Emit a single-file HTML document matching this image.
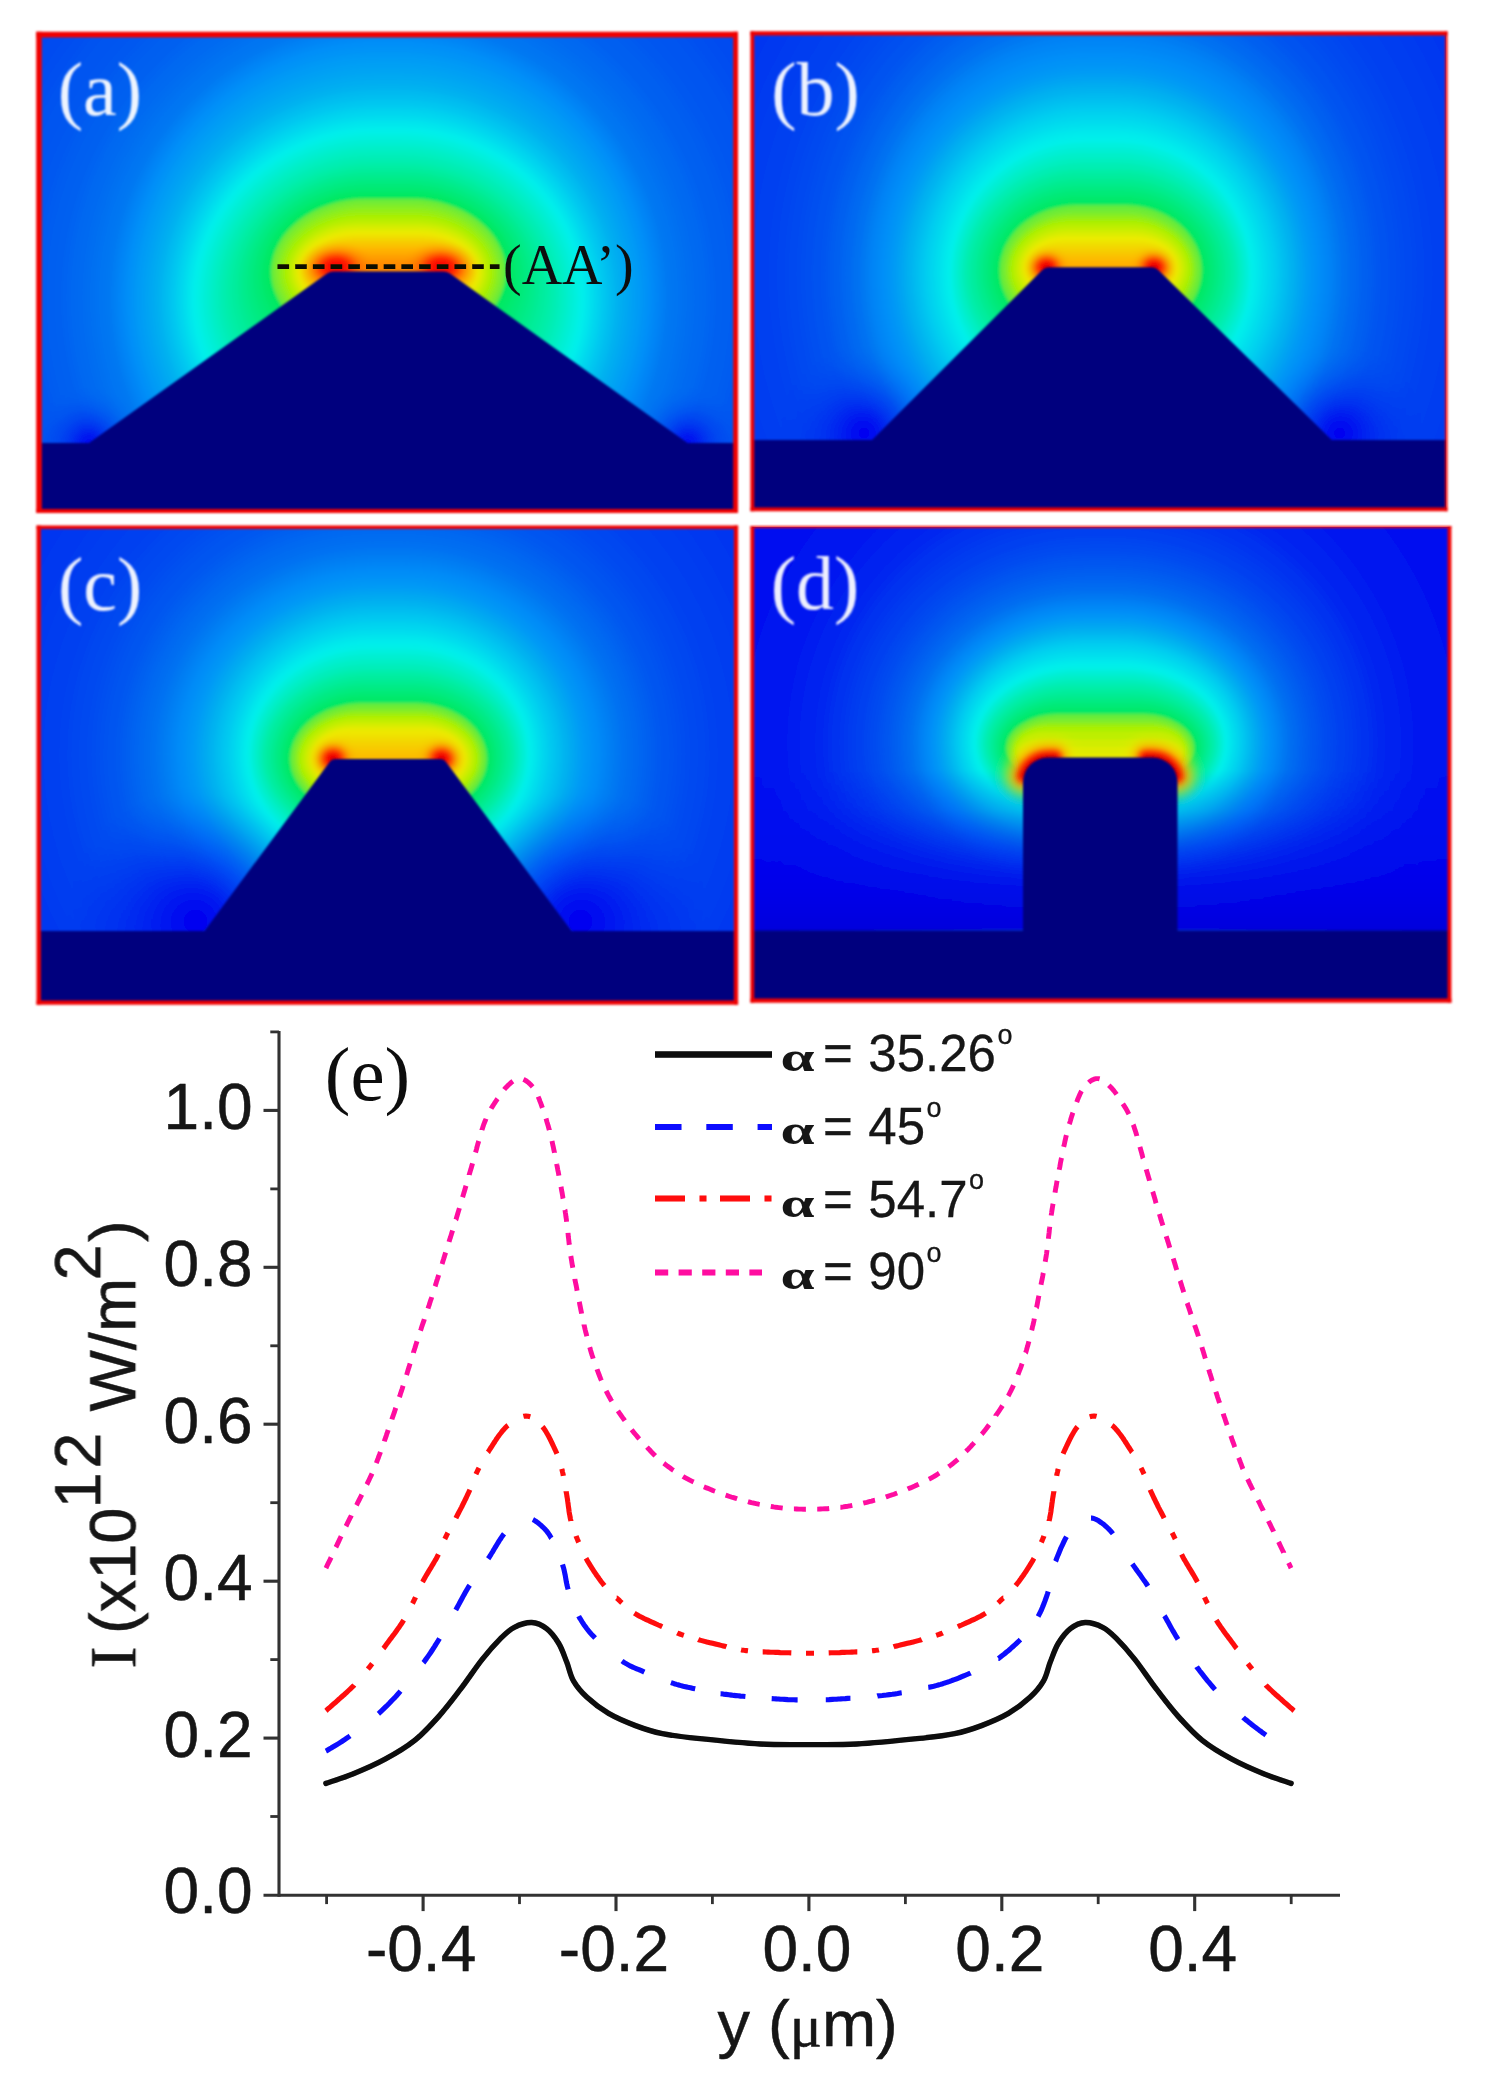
<!DOCTYPE html>
<html><head><meta charset="utf-8"><title>figure</title>
<style>html,body{margin:0;padding:0;background:#fff}svg{display:block}text{font-family:"Liberation Sans",sans-serif}.se{font-family:"Liberation Serif",serif}</style></head><body>
<svg width="1486" height="2092" viewBox="0 0 1486 2092">
<defs>
<filter id="soft" x="-5%" y="-5%" width="110%" height="110%"><feGaussianBlur stdDeviation="1.6"/></filter>
<filter id="soft1" x="-5%" y="-5%" width="110%" height="110%"><feGaussianBlur stdDeviation="1.0"/></filter>
<filter id="bl2" filterUnits="userSpaceOnUse" x="0" y="0" width="1486" height="1040"><feGaussianBlur stdDeviation="1.6"/></filter>
<filter id="bl3" filterUnits="userSpaceOnUse" x="0" y="0" width="1486" height="1040"><feGaussianBlur stdDeviation="2.6"/></filter>
<filter id="bl5" filterUnits="userSpaceOnUse" x="0" y="0" width="1486" height="1040"><feGaussianBlur stdDeviation="4.2"/></filter>
<filter id="bl7" filterUnits="userSpaceOnUse" x="0" y="0" width="1486" height="1040"><feGaussianBlur stdDeviation="6"/></filter>
<filter id="soft2" x="-5%" y="-5%" width="110%" height="110%"><feGaussianBlur stdDeviation="0.6"/></filter>
<radialGradient id="hotA"><stop offset="0.000" stop-color="#f40400" stop-opacity="1.000"/><stop offset="0.031" stop-color="#f50600" stop-opacity="1.000"/><stop offset="0.062" stop-color="#f60800" stop-opacity="1.000"/><stop offset="0.094" stop-color="#f70a00" stop-opacity="1.000"/><stop offset="0.125" stop-color="#f90c00" stop-opacity="1.000"/><stop offset="0.156" stop-color="#fa0e00" stop-opacity="1.000"/><stop offset="0.188" stop-color="#fb1000" stop-opacity="1.000"/><stop offset="0.219" stop-color="#fc1300" stop-opacity="0.998"/><stop offset="0.250" stop-color="#fd1500" stop-opacity="0.984"/><stop offset="0.281" stop-color="#fe1700" stop-opacity="0.960"/><stop offset="0.312" stop-color="#ff1b00" stop-opacity="0.924"/><stop offset="0.344" stop-color="#ff2100" stop-opacity="0.879"/><stop offset="0.375" stop-color="#ff2700" stop-opacity="0.826"/><stop offset="0.406" stop-color="#ff2d00" stop-opacity="0.767"/><stop offset="0.438" stop-color="#ff3400" stop-opacity="0.703"/><stop offset="0.469" stop-color="#ff3a00" stop-opacity="0.637"/><stop offset="0.500" stop-color="#ff4000" stop-opacity="0.570"/><stop offset="0.531" stop-color="#ff4600" stop-opacity="0.504"/><stop offset="0.562" stop-color="#ff4c00" stop-opacity="0.440"/><stop offset="0.594" stop-color="#ff5300" stop-opacity="0.379"/><stop offset="0.625" stop-color="#ff5700" stop-opacity="0.323"/><stop offset="0.656" stop-color="#ff5b00" stop-opacity="0.272"/><stop offset="0.688" stop-color="#ff5f00" stop-opacity="0.226"/><stop offset="0.719" stop-color="#ff6300" stop-opacity="0.186"/><stop offset="0.750" stop-color="#ff6700" stop-opacity="0.151"/><stop offset="0.781" stop-color="#ff6b00" stop-opacity="0.121"/><stop offset="0.812" stop-color="#ff6f00" stop-opacity="0.090"/><stop offset="0.844" stop-color="#ff7300" stop-opacity="0.059"/><stop offset="0.875" stop-color="#ff7700" stop-opacity="0.036"/><stop offset="0.906" stop-color="#ff7b00" stop-opacity="0.021"/><stop offset="0.938" stop-color="#ff7f00" stop-opacity="0.010"/><stop offset="0.969" stop-color="#ff8300" stop-opacity="0.004"/><stop offset="1.000" stop-color="#ff8700" stop-opacity="0.000"/></radialGradient>
<radialGradient id="hotB"><stop offset="0.000" stop-color="#d00000" stop-opacity="1.000"/><stop offset="0.031" stop-color="#d90100" stop-opacity="1.000"/><stop offset="0.062" stop-color="#e30200" stop-opacity="1.000"/><stop offset="0.094" stop-color="#ec0300" stop-opacity="1.000"/><stop offset="0.125" stop-color="#f40500" stop-opacity="0.994"/><stop offset="0.156" stop-color="#f60b00" stop-opacity="0.968"/><stop offset="0.188" stop-color="#f81200" stop-opacity="0.923"/><stop offset="0.219" stop-color="#fa1800" stop-opacity="0.864"/><stop offset="0.250" stop-color="#fc1e00" stop-opacity="0.791"/><stop offset="0.281" stop-color="#fe2400" stop-opacity="0.710"/><stop offset="0.312" stop-color="#ff2c00" stop-opacity="0.625"/><stop offset="0.344" stop-color="#ff3500" stop-opacity="0.539"/><stop offset="0.375" stop-color="#ff3e00" stop-opacity="0.455"/><stop offset="0.406" stop-color="#ff4800" stop-opacity="0.377"/><stop offset="0.438" stop-color="#ff5100" stop-opacity="0.306"/><stop offset="0.469" stop-color="#ff5b00" stop-opacity="0.243"/><stop offset="0.500" stop-color="#ff6400" stop-opacity="0.189"/><stop offset="0.531" stop-color="#ff6c00" stop-opacity="0.144"/><stop offset="0.562" stop-color="#ff7300" stop-opacity="0.108"/><stop offset="0.594" stop-color="#ff7a00" stop-opacity="0.079"/><stop offset="0.625" stop-color="#ff8200" stop-opacity="0.057"/><stop offset="0.656" stop-color="#ff8a00" stop-opacity="0.040"/><stop offset="0.688" stop-color="#ff9100" stop-opacity="0.028"/><stop offset="0.719" stop-color="#ff9800" stop-opacity="0.019"/><stop offset="0.750" stop-color="#ffa000" stop-opacity="0.012"/><stop offset="0.781" stop-color="#ffa500" stop-opacity="0.008"/><stop offset="0.812" stop-color="#ffaa00" stop-opacity="0.005"/><stop offset="0.844" stop-color="#ffaf00" stop-opacity="0.002"/><stop offset="0.875" stop-color="#ffb400" stop-opacity="0.001"/><stop offset="0.906" stop-color="#ffb900" stop-opacity="0.001"/><stop offset="0.938" stop-color="#ffbe00" stop-opacity="0.000"/><stop offset="0.969" stop-color="#ffc300" stop-opacity="0.000"/><stop offset="1.000" stop-color="#ffc800" stop-opacity="0.000"/></radialGradient>
<radialGradient id="hotD"><stop offset="0.000" stop-color="#ca0000" stop-opacity="1.000"/><stop offset="0.031" stop-color="#d10000" stop-opacity="1.000"/><stop offset="0.062" stop-color="#d70100" stop-opacity="1.000"/><stop offset="0.094" stop-color="#de0100" stop-opacity="1.000"/><stop offset="0.125" stop-color="#e50200" stop-opacity="1.000"/><stop offset="0.156" stop-color="#eb0200" stop-opacity="1.000"/><stop offset="0.188" stop-color="#f00900" stop-opacity="0.996"/><stop offset="0.219" stop-color="#f41000" stop-opacity="0.981"/><stop offset="0.250" stop-color="#f81800" stop-opacity="0.955"/><stop offset="0.281" stop-color="#fc1f00" stop-opacity="0.920"/><stop offset="0.312" stop-color="#ff2b00" stop-opacity="0.876"/><stop offset="0.344" stop-color="#ff3b00" stop-opacity="0.826"/><stop offset="0.375" stop-color="#ff4c00" stop-opacity="0.769"/><stop offset="0.406" stop-color="#ff5c00" stop-opacity="0.709"/><stop offset="0.438" stop-color="#ff6c00" stop-opacity="0.646"/><stop offset="0.469" stop-color="#ff7d00" stop-opacity="0.583"/><stop offset="0.500" stop-color="#ff8e00" stop-opacity="0.519"/><stop offset="0.531" stop-color="#ff9e00" stop-opacity="0.458"/><stop offset="0.562" stop-color="#ffaf00" stop-opacity="0.399"/><stop offset="0.594" stop-color="#ffc000" stop-opacity="0.344"/><stop offset="0.625" stop-color="#fcc900" stop-opacity="0.294"/><stop offset="0.656" stop-color="#f8d000" stop-opacity="0.248"/><stop offset="0.688" stop-color="#f4d700" stop-opacity="0.207"/><stop offset="0.719" stop-color="#f0df00" stop-opacity="0.170"/><stop offset="0.750" stop-color="#ece600" stop-opacity="0.139"/><stop offset="0.781" stop-color="#e8e700" stop-opacity="0.112"/><stop offset="0.812" stop-color="#e3e800" stop-opacity="0.084"/><stop offset="0.844" stop-color="#deea00" stop-opacity="0.055"/><stop offset="0.875" stop-color="#daeb00" stop-opacity="0.034"/><stop offset="0.906" stop-color="#d6ec00" stop-opacity="0.020"/><stop offset="0.938" stop-color="#d1ee00" stop-opacity="0.010"/><stop offset="0.969" stop-color="#ccef00" stop-opacity="0.004"/><stop offset="1.000" stop-color="#c8f000" stop-opacity="0.000"/></radialGradient>
<radialGradient id="dk1"><stop offset="0.000" stop-color="#0000f0" stop-opacity="0.950"/><stop offset="0.031" stop-color="#0000f0" stop-opacity="0.950"/><stop offset="0.062" stop-color="#0001f0" stop-opacity="0.920"/><stop offset="0.094" stop-color="#0001f0" stop-opacity="0.848"/><stop offset="0.125" stop-color="#0002f0" stop-opacity="0.780"/><stop offset="0.156" stop-color="#0002f0" stop-opacity="0.715"/><stop offset="0.188" stop-color="#0003f0" stop-opacity="0.653"/><stop offset="0.219" stop-color="#0003f0" stop-opacity="0.594"/><stop offset="0.250" stop-color="#0004f0" stop-opacity="0.539"/><stop offset="0.281" stop-color="#0004f0" stop-opacity="0.486"/><stop offset="0.312" stop-color="#0005f0" stop-opacity="0.437"/><stop offset="0.344" stop-color="#0005f0" stop-opacity="0.391"/><stop offset="0.375" stop-color="#0006f0" stop-opacity="0.348"/><stop offset="0.406" stop-color="#0006f0" stop-opacity="0.307"/><stop offset="0.438" stop-color="#0008f0" stop-opacity="0.270"/><stop offset="0.469" stop-color="#000af0" stop-opacity="0.235"/><stop offset="0.500" stop-color="#000cf0" stop-opacity="0.204"/><stop offset="0.531" stop-color="#000df0" stop-opacity="0.174"/><stop offset="0.562" stop-color="#000ff0" stop-opacity="0.148"/><stop offset="0.594" stop-color="#0011f0" stop-opacity="0.124"/><stop offset="0.625" stop-color="#0013f0" stop-opacity="0.102"/><stop offset="0.656" stop-color="#0015f0" stop-opacity="0.083"/><stop offset="0.688" stop-color="#0016f0" stop-opacity="0.066"/><stop offset="0.719" stop-color="#0018f0" stop-opacity="0.051"/><stop offset="0.750" stop-color="#001af0" stop-opacity="0.039"/><stop offset="0.781" stop-color="#001cf0" stop-opacity="0.028"/><stop offset="0.812" stop-color="#001df0" stop-opacity="0.019"/><stop offset="0.844" stop-color="#001ff0" stop-opacity="0.012"/><stop offset="0.875" stop-color="#0021f0" stop-opacity="0.007"/><stop offset="0.906" stop-color="#0023f0" stop-opacity="0.004"/><stop offset="0.938" stop-color="#0024f0" stop-opacity="0.001"/><stop offset="0.969" stop-color="#0026f0" stop-opacity="0.000"/><stop offset="1.000" stop-color="#0028f0" stop-opacity="0.000"/></radialGradient>
<radialGradient id="dk2"><stop offset="0.000" stop-color="#0000f0" stop-opacity="1.000"/><stop offset="0.031" stop-color="#0000f0" stop-opacity="1.000"/><stop offset="0.062" stop-color="#0001f0" stop-opacity="0.971"/><stop offset="0.094" stop-color="#0001f0" stop-opacity="0.901"/><stop offset="0.125" stop-color="#0002f0" stop-opacity="0.834"/><stop offset="0.156" stop-color="#0002f0" stop-opacity="0.770"/><stop offset="0.188" stop-color="#0003f0" stop-opacity="0.709"/><stop offset="0.219" stop-color="#0003f0" stop-opacity="0.650"/><stop offset="0.250" stop-color="#0004f0" stop-opacity="0.594"/><stop offset="0.281" stop-color="#0004f0" stop-opacity="0.541"/><stop offset="0.312" stop-color="#0005f0" stop-opacity="0.491"/><stop offset="0.344" stop-color="#0005f0" stop-opacity="0.443"/><stop offset="0.375" stop-color="#0006f0" stop-opacity="0.398"/><stop offset="0.406" stop-color="#0006f0" stop-opacity="0.356"/><stop offset="0.438" stop-color="#0008f0" stop-opacity="0.316"/><stop offset="0.469" stop-color="#000af0" stop-opacity="0.278"/><stop offset="0.500" stop-color="#000cf0" stop-opacity="0.244"/><stop offset="0.531" stop-color="#000df0" stop-opacity="0.211"/><stop offset="0.562" stop-color="#000ff0" stop-opacity="0.182"/><stop offset="0.594" stop-color="#0011f0" stop-opacity="0.154"/><stop offset="0.625" stop-color="#0013f0" stop-opacity="0.129"/><stop offset="0.656" stop-color="#0015f0" stop-opacity="0.107"/><stop offset="0.688" stop-color="#0016f0" stop-opacity="0.087"/><stop offset="0.719" stop-color="#0018f0" stop-opacity="0.069"/><stop offset="0.750" stop-color="#001af0" stop-opacity="0.053"/><stop offset="0.781" stop-color="#001cf0" stop-opacity="0.040"/><stop offset="0.812" stop-color="#001df0" stop-opacity="0.028"/><stop offset="0.844" stop-color="#001ff0" stop-opacity="0.019"/><stop offset="0.875" stop-color="#0021f0" stop-opacity="0.012"/><stop offset="0.906" stop-color="#0023f0" stop-opacity="0.006"/><stop offset="0.938" stop-color="#0024f0" stop-opacity="0.003"/><stop offset="0.969" stop-color="#0026f0" stop-opacity="0.001"/><stop offset="1.000" stop-color="#0028f0" stop-opacity="0.000"/></radialGradient>
<radialGradient id="dk3"><stop offset="0.000" stop-color="#0000f0" stop-opacity="1.000"/><stop offset="0.031" stop-color="#0000f0" stop-opacity="1.000"/><stop offset="0.062" stop-color="#0001f0" stop-opacity="0.981"/><stop offset="0.094" stop-color="#0001f0" stop-opacity="0.934"/><stop offset="0.125" stop-color="#0002f0" stop-opacity="0.888"/><stop offset="0.156" stop-color="#0002f0" stop-opacity="0.842"/><stop offset="0.188" stop-color="#0003f0" stop-opacity="0.797"/><stop offset="0.219" stop-color="#0003f0" stop-opacity="0.753"/><stop offset="0.250" stop-color="#0004f0" stop-opacity="0.710"/><stop offset="0.281" stop-color="#0004f0" stop-opacity="0.667"/><stop offset="0.312" stop-color="#0005f0" stop-opacity="0.626"/><stop offset="0.344" stop-color="#0005f0" stop-opacity="0.585"/><stop offset="0.375" stop-color="#0006f0" stop-opacity="0.545"/><stop offset="0.406" stop-color="#0006f0" stop-opacity="0.506"/><stop offset="0.438" stop-color="#0008f0" stop-opacity="0.468"/><stop offset="0.469" stop-color="#000af0" stop-opacity="0.431"/><stop offset="0.500" stop-color="#000cf0" stop-opacity="0.394"/><stop offset="0.531" stop-color="#000df0" stop-opacity="0.359"/><stop offset="0.562" stop-color="#000ff0" stop-opacity="0.325"/><stop offset="0.594" stop-color="#0011f0" stop-opacity="0.292"/><stop offset="0.625" stop-color="#0013f0" stop-opacity="0.260"/><stop offset="0.656" stop-color="#0015f0" stop-opacity="0.229"/><stop offset="0.688" stop-color="#0016f0" stop-opacity="0.199"/><stop offset="0.719" stop-color="#0018f0" stop-opacity="0.171"/><stop offset="0.750" stop-color="#001af0" stop-opacity="0.144"/><stop offset="0.781" stop-color="#001cf0" stop-opacity="0.119"/><stop offset="0.812" stop-color="#001df0" stop-opacity="0.095"/><stop offset="0.844" stop-color="#001ff0" stop-opacity="0.073"/><stop offset="0.875" stop-color="#0021f0" stop-opacity="0.053"/><stop offset="0.906" stop-color="#0023f0" stop-opacity="0.035"/><stop offset="0.938" stop-color="#0024f0" stop-opacity="0.019"/><stop offset="0.969" stop-color="#0026f0" stop-opacity="0.007"/><stop offset="1.000" stop-color="#0028f0" stop-opacity="0.000"/></radialGradient>
<linearGradient id="dkD" x1="0" y1="0" x2="0" y2="1"><stop offset="0" stop-color="#0000ee" stop-opacity="0"/><stop offset="0.25" stop-color="#0000ee" stop-opacity="0.2"/><stop offset="0.5" stop-color="#0000ec" stop-opacity="0.55"/><stop offset="0.75" stop-color="#0000e8" stop-opacity="0.88"/><stop offset="1" stop-color="#0000dc" stop-opacity="1"/></linearGradient>
</defs>
<rect width="1486" height="2092" fill="#fff"/>
<clipPath id="cpA"><rect x="39.0" y="34.6" width="696.6" height="476.4"/></clipPath>
<g clip-path="url(#cpA)"><g filter="url(#soft)">
<rect x="19.0" y="14.600000000000001" width="736.6" height="516.4" fill="#003cf0"/>
<rect x="-190.0" y="-308.5" width="1157.0" height="1212.0" rx="574.8" ry="606.0" fill="#003cf0"/>
<rect x="-186.0" y="-304.1" width="1149.0" height="1203.2" rx="570.8" ry="601.6" fill="#003cf0"/>
<rect x="-182.0" y="-299.7" width="1141.0" height="1194.3" rx="566.8" ry="597.2" fill="#003cf0"/>
<rect x="-178.0" y="-295.2" width="1133.0" height="1185.5" rx="562.7" ry="592.7" fill="#003df0"/>
<rect x="-174.0" y="-290.8" width="1125.0" height="1176.7" rx="558.7" ry="588.3" fill="#003df0"/>
<rect x="-170.0" y="-286.4" width="1117.0" height="1167.8" rx="554.7" ry="583.9" fill="#003df0"/>
<rect x="-166.0" y="-282.0" width="1109.0" height="1159.0" rx="550.6" ry="579.5" fill="#003ef0"/>
<rect x="-162.0" y="-277.6" width="1101.0" height="1150.2" rx="546.6" ry="575.1" fill="#003ef0"/>
<rect x="-158.0" y="-273.2" width="1093.0" height="1141.3" rx="542.6" ry="570.7" fill="#003ef0"/>
<rect x="-154.0" y="-268.7" width="1085.0" height="1132.5" rx="538.6" ry="566.2" fill="#003ff0"/>
<rect x="-150.0" y="-264.3" width="1077.0" height="1123.7" rx="534.5" ry="561.8" fill="#003ff0"/>
<rect x="-146.0" y="-259.9" width="1069.0" height="1114.8" rx="530.5" ry="557.4" fill="#003ff0"/>
<rect x="-142.0" y="-255.5" width="1061.0" height="1106.0" rx="526.5" ry="553.0" fill="#0040f0"/>
<rect x="-138.0" y="-251.1" width="1053.0" height="1097.2" rx="522.4" ry="548.6" fill="#0040f0"/>
<rect x="-134.0" y="-246.7" width="1045.0" height="1088.3" rx="518.4" ry="544.2" fill="#0041f0"/>
<rect x="-130.0" y="-242.2" width="1037.0" height="1079.5" rx="514.4" ry="539.7" fill="#0041f0"/>
<rect x="-126.0" y="-237.8" width="1029.0" height="1070.7" rx="510.3" ry="535.3" fill="#0041f0"/>
<rect x="-122.0" y="-233.4" width="1021.0" height="1061.8" rx="506.3" ry="530.9" fill="#0042f0"/>
<rect x="-118.0" y="-229.0" width="1013.0" height="1053.0" rx="502.3" ry="526.5" fill="#0042f0"/>
<rect x="-114.0" y="-224.6" width="1005.0" height="1044.1" rx="498.2" ry="522.1" fill="#0043f0"/>
<rect x="-110.0" y="-220.2" width="997.0" height="1035.3" rx="494.2" ry="517.7" fill="#0043f0"/>
<rect x="-106.0" y="-215.7" width="989.0" height="1026.5" rx="490.2" ry="513.2" fill="#0043f0"/>
<rect x="-102.0" y="-211.3" width="981.0" height="1017.6" rx="486.1" ry="508.8" fill="#0044f0"/>
<rect x="-98.0" y="-206.9" width="973.0" height="1008.8" rx="482.1" ry="504.4" fill="#0044f0"/>
<rect x="-94.0" y="-202.5" width="965.0" height="1000.0" rx="478.0" ry="500.0" fill="#0045f0"/>
<rect x="-90.0" y="-198.1" width="957.0" height="991.1" rx="474.0" ry="495.6" fill="#0045f0"/>
<rect x="-86.0" y="-193.7" width="949.0" height="982.3" rx="470.0" ry="491.2" fill="#0045f0"/>
<rect x="-82.0" y="-189.2" width="941.0" height="973.5" rx="465.9" ry="486.7" fill="#0046f0"/>
<rect x="-78.0" y="-184.8" width="933.0" height="964.6" rx="461.9" ry="482.3" fill="#0046f0"/>
<rect x="-74.0" y="-180.4" width="925.0" height="955.8" rx="457.8" ry="477.9" fill="#0047f0"/>
<rect x="-70.0" y="-176.0" width="917.0" height="947.0" rx="453.8" ry="473.5" fill="#0047f0"/>
<rect x="-66.0" y="-171.6" width="909.0" height="938.1" rx="449.7" ry="469.1" fill="#0047f0"/>
<rect x="-62.0" y="-167.2" width="901.0" height="929.3" rx="445.7" ry="464.7" fill="#0048f0"/>
<rect x="-58.0" y="-162.7" width="893.0" height="920.5" rx="441.7" ry="460.2" fill="#0048f0"/>
<rect x="-54.0" y="-158.3" width="885.0" height="911.6" rx="437.6" ry="455.8" fill="#0049f0"/>
<rect x="-50.0" y="-153.9" width="877.0" height="902.8" rx="433.6" ry="451.4" fill="#0049f0"/>
<rect x="-46.0" y="-149.5" width="869.0" height="894.0" rx="429.5" ry="447.0" fill="#004af0"/>
<rect x="-42.0" y="-145.1" width="861.0" height="885.1" rx="425.5" ry="442.6" fill="#004af0"/>
<rect x="-38.0" y="-140.6" width="853.0" height="876.3" rx="421.4" ry="438.1" fill="#004af0"/>
<rect x="-34.0" y="-136.2" width="845.0" height="867.5" rx="417.4" ry="433.7" fill="#004bf0"/>
<rect x="-30.0" y="-131.8" width="837.0" height="858.6" rx="413.3" ry="429.3" fill="#004bf0"/>
<rect x="-26.0" y="-127.4" width="829.0" height="849.8" rx="409.3" ry="424.9" fill="#004cf0"/>
<rect x="-22.0" y="-122.9" width="821.0" height="840.8" rx="405.2" ry="420.4" fill="#004df0"/>
<rect x="-18.0" y="-118.4" width="813.0" height="831.9" rx="401.2" ry="415.9" fill="#004ef0"/>
<rect x="-14.0" y="-114.0" width="805.0" height="822.9" rx="397.1" ry="411.5" fill="#004ff0"/>
<rect x="-10.0" y="-109.5" width="797.0" height="814.0" rx="393.0" ry="407.0" fill="#0050f0"/>
<rect x="-6.0" y="-105.0" width="789.0" height="805.1" rx="389.0" ry="402.5" fill="#0051f0"/>
<rect x="-2.0" y="-100.6" width="781.0" height="796.1" rx="384.9" ry="398.1" fill="#0052f0"/>
<rect x="2.0" y="-96.1" width="773.0" height="787.2" rx="380.9" ry="393.6" fill="#0053f0"/>
<rect x="6.0" y="-91.6" width="765.0" height="778.2" rx="376.8" ry="389.1" fill="#0054f0"/>
<rect x="10.0" y="-87.1" width="757.0" height="769.3" rx="372.7" ry="384.6" fill="#0054f0"/>
<rect x="14.0" y="-82.7" width="749.0" height="760.4" rx="368.7" ry="380.2" fill="#0055f0"/>
<rect x="18.0" y="-78.2" width="741.0" height="751.4" rx="364.6" ry="375.7" fill="#0056f0"/>
<rect x="22.0" y="-73.7" width="733.0" height="742.5" rx="360.5" ry="371.2" fill="#0057f0"/>
<rect x="26.0" y="-69.3" width="725.0" height="733.5" rx="356.5" ry="366.8" fill="#0058f0"/>
<rect x="30.0" y="-64.8" width="717.0" height="724.6" rx="352.4" ry="362.3" fill="#0059f0"/>
<rect x="34.0" y="-60.3" width="709.0" height="715.6" rx="348.3" ry="357.8" fill="#005af0"/>
<rect x="38.0" y="-55.9" width="701.0" height="706.7" rx="344.2" ry="353.4" fill="#005cf0"/>
<rect x="42.0" y="-51.4" width="693.0" height="697.8" rx="340.2" ry="348.9" fill="#005df0"/>
<rect x="46.0" y="-46.9" width="685.0" height="688.8" rx="336.1" ry="344.4" fill="#005ef0"/>
<rect x="50.0" y="-42.4" width="677.0" height="679.9" rx="332.0" ry="339.9" fill="#005ff0"/>
<rect x="54.0" y="-38.0" width="669.0" height="670.9" rx="327.9" ry="335.5" fill="#0060f0"/>
<rect x="58.0" y="-33.5" width="661.0" height="662.0" rx="323.8" ry="331.0" fill="#0061f0"/>
<rect x="62.0" y="-29.2" width="653.0" height="653.3" rx="319.7" ry="326.7" fill="#0063f1"/>
<rect x="66.0" y="-24.8" width="645.0" height="644.7" rx="315.7" ry="322.3" fill="#0065f1"/>
<rect x="70.0" y="-20.5" width="637.0" height="636.0" rx="311.6" ry="318.0" fill="#0067f1"/>
<rect x="74.0" y="-16.2" width="629.0" height="627.4" rx="307.5" ry="313.7" fill="#0069f1"/>
<rect x="78.0" y="-11.9" width="621.0" height="618.7" rx="303.4" ry="309.4" fill="#006bf1"/>
<rect x="82.0" y="-7.5" width="613.0" height="610.1" rx="299.3" ry="305.0" fill="#006cf1"/>
<rect x="86.0" y="-3.2" width="605.0" height="601.4" rx="295.2" ry="300.7" fill="#006ef1"/>
<rect x="90.0" y="1.1" width="597.0" height="592.8" rx="291.1" ry="296.4" fill="#0070f1"/>
<rect x="94.0" y="5.4" width="589.0" height="584.1" rx="286.9" ry="292.1" fill="#0072f2"/>
<rect x="98.0" y="9.8" width="581.0" height="575.5" rx="282.8" ry="287.7" fill="#0074f2"/>
<rect x="102.0" y="14.1" width="573.0" height="566.8" rx="278.7" ry="283.4" fill="#0076f2"/>
<rect x="106.0" y="18.4" width="565.0" height="558.2" rx="274.6" ry="279.1" fill="#0078f2"/>
<rect x="110.0" y="22.8" width="557.0" height="549.3" rx="270.5" ry="274.7" fill="#007cf3"/>
<rect x="114.0" y="27.3" width="549.0" height="540.4" rx="266.3" ry="270.2" fill="#0081f4"/>
<rect x="118.0" y="31.7" width="541.0" height="531.6" rx="262.2" ry="265.8" fill="#0085f6"/>
<rect x="122.0" y="36.2" width="533.0" height="522.7" rx="258.1" ry="261.3" fill="#008af7"/>
<rect x="126.0" y="40.9" width="525.0" height="513.4" rx="253.9" ry="256.7" fill="#008ff8"/>
<rect x="130.0" y="46.4" width="517.0" height="502.8" rx="249.8" ry="251.4" fill="#0093f7"/>
<rect x="134.0" y="52.0" width="509.0" height="492.2" rx="245.6" ry="246.1" fill="#0098f6"/>
<rect x="138.0" y="57.5" width="501.0" height="481.6" rx="241.5" ry="240.8" fill="#009cf5"/>
<rect x="142.0" y="63.1" width="493.0" height="471.0" rx="237.3" ry="235.5" fill="#00a0f4"/>
<rect x="146.0" y="68.6" width="485.0" height="460.5" rx="233.2" ry="230.2" fill="#00a4f3"/>
<rect x="150.0" y="74.2" width="477.0" height="449.9" rx="229.0" ry="224.9" fill="#00a9f2"/>
<rect x="154.0" y="79.7" width="469.0" height="439.3" rx="224.8" ry="219.6" fill="#00adf1"/>
<rect x="158.0" y="85.0" width="461.0" height="429.0" rx="220.6" ry="214.5" fill="#00b2f0"/>
<rect x="162.0" y="90.0" width="453.0" height="419.1" rx="216.4" ry="209.5" fill="#00b9f0"/>
<rect x="166.0" y="94.9" width="445.0" height="409.1" rx="212.2" ry="204.6" fill="#00bff0"/>
<rect x="170.0" y="99.9" width="437.0" height="399.2" rx="208.0" ry="199.6" fill="#00c6f0"/>
<rect x="174.0" y="104.9" width="429.0" height="389.2" rx="203.8" ry="194.6" fill="#00ccf0"/>
<rect x="177.0" y="108.6" width="423.0" height="381.8" rx="200.6" ry="190.9" fill="#00d2ef"/>
<rect x="180.0" y="112.3" width="417.0" height="374.3" rx="197.4" ry="187.2" fill="#00d7ef"/>
<rect x="183.0" y="116.1" width="411.0" height="366.9" rx="194.2" ry="183.4" fill="#00ddee"/>
<rect x="186.0" y="119.8" width="405.0" height="359.4" rx="191.1" ry="179.7" fill="#00e3ed"/>
<rect x="189.0" y="123.5" width="399.0" height="351.9" rx="187.9" ry="176.0" fill="#00e8ec"/>
<rect x="192.0" y="127.3" width="393.0" height="344.5" rx="184.7" ry="172.2" fill="#00eeeb"/>
<rect x="195.0" y="130.6" width="387.0" height="337.0" rx="181.5" ry="168.5" fill="#00f0e7"/>
<rect x="198.0" y="133.8" width="381.0" height="329.5" rx="178.2" ry="164.8" fill="#00f0e1"/>
<rect x="201.0" y="137.0" width="375.0" height="322.0" rx="175.0" ry="161.0" fill="#00f0db"/>
<rect x="204.0" y="140.2" width="369.0" height="314.5" rx="171.8" ry="157.2" fill="#00efd5"/>
<rect x="207.0" y="143.4" width="363.0" height="307.0" rx="168.5" ry="153.5" fill="#00efcf"/>
<rect x="210.0" y="146.6" width="357.0" height="299.5" rx="165.3" ry="149.8" fill="#00efc8"/>
<rect x="213.0" y="149.8" width="351.0" height="292.0" rx="162.0" ry="146.0" fill="#00efc2"/>
<rect x="216.0" y="152.9" width="345.0" height="284.5" rx="158.8" ry="142.2" fill="#00efbc"/>
<rect x="219.0" y="156.1" width="339.0" height="277.0" rx="155.5" ry="138.5" fill="#00eeb6"/>
<rect x="222.0" y="159.3" width="333.0" height="269.5" rx="152.2" ry="134.8" fill="#00eeb0"/>
<rect x="225.0" y="162.5" width="327.0" height="262.0" rx="148.9" ry="131.0" fill="#00eeaa"/>
<rect x="228.0" y="164.8" width="321.0" height="254.5" rx="145.6" ry="127.2" fill="#00eea5"/>
<rect x="231.0" y="167.1" width="315.0" height="247.0" rx="142.2" ry="123.5" fill="#00eda0"/>
<rect x="234.0" y="169.4" width="309.0" height="239.5" rx="138.9" ry="119.8" fill="#00ed9b"/>
<rect x="237.0" y="171.6" width="303.0" height="232.0" rx="135.5" ry="116.0" fill="#00ec96"/>
<rect x="240.0" y="173.9" width="297.0" height="224.5" rx="132.1" ry="112.2" fill="#00ec90"/>
<rect x="243.0" y="176.2" width="291.0" height="217.0" rx="128.7" ry="108.5" fill="#00ec8b"/>
<rect x="246.0" y="178.5" width="285.0" height="209.5" rx="125.3" ry="104.8" fill="#00eb86"/>
<rect x="249.0" y="180.8" width="279.0" height="202.0" rx="121.8" ry="101.0" fill="#00eb81"/>
<rect x="252.0" y="183.1" width="273.0" height="194.5" rx="118.4" ry="97.2" fill="#00ea7c"/>
<rect x="255.0" y="185.3" width="267.0" height="187.0" rx="114.9" ry="93.5" fill="#00ea77"/>
<rect x="258.0" y="187.6" width="261.0" height="179.5" rx="111.4" ry="89.8" fill="#00ea72"/>
<rect x="261.0" y="189.9" width="255.0" height="172.0" rx="107.8" ry="86.0" fill="#00e96d"/>
<rect x="263.0" y="191.4" width="251.0" height="167.0" rx="105.4" ry="83.5" fill="#00e969"/>
<rect x="265.0" y="193.0" width="247.0" height="162.0" rx="103.0" ry="81.0" fill="#00e966"/>
<rect x="267.0" y="194.5" width="243.0" height="157.0" rx="100.6" ry="78.5" fill="#00e862"/>
<rect x="269.0" y="196.0" width="239.0" height="152.0" rx="98.2" ry="76.0" fill="#00e85f"/>
<rect x="271.0" y="198.4" width="235.0" height="146.9" rx="95.7" ry="73.4" fill="#65eb3a"/>
<rect x="273.0" y="200.8" width="231.0" height="141.6" rx="93.2" ry="70.8" fill="#70ec35"/>
<rect x="275.0" y="203.2" width="227.0" height="136.5" rx="90.8" ry="68.3" fill="#7bec2f"/>
<rect x="277.0" y="205.7" width="223.0" height="131.6" rx="88.2" ry="65.8" fill="#84ed26"/>
<rect x="279.0" y="208.1" width="219.0" height="126.7" rx="85.7" ry="63.4" fill="#8eee1c"/>
<rect x="281.0" y="210.6" width="215.0" height="121.8" rx="83.1" ry="60.9" fill="#97ee13"/>
<rect x="283.0" y="213.0" width="211.0" height="116.9" rx="80.5" ry="58.5" fill="#a1ef09"/>
<rect x="285.0" y="215.5" width="207.0" height="112.0" rx="77.9" ry="56.0" fill="#aaf000"/>
<rect x="287.0" y="218.0" width="203.0" height="107.1" rx="75.2" ry="53.5" fill="#b4ef00"/>
<rect x="289.0" y="220.4" width="199.0" height="102.2" rx="72.6" ry="51.1" fill="#beee00"/>
<rect x="291.0" y="222.9" width="195.0" height="97.2" rx="69.8" ry="48.6" fill="#c8ee00"/>
<rect x="293.0" y="225.3" width="191.0" height="92.3" rx="67.1" ry="46.2" fill="#d3ed00"/>
<rect x="295.0" y="227.8" width="187.0" height="87.4" rx="64.2" ry="43.7" fill="#ddec00"/>
<rect x="297.0" y="230.3" width="183.0" height="82.5" rx="61.4" ry="41.2" fill="#e7eb00"/>
<rect x="299.0" y="232.8" width="179.0" height="77.5" rx="58.5" ry="38.7" fill="#ede700"/>
<rect x="301.0" y="235.3" width="175.0" height="72.4" rx="55.5" ry="36.2" fill="#f0df00"/>
<rect x="303.0" y="237.8" width="171.0" height="67.4" rx="52.5" ry="33.7" fill="#f3d700"/>
<rect x="305.0" y="240.3" width="167.0" height="62.4" rx="49.4" ry="31.2" fill="#f6ce00"/>
<rect x="307.0" y="242.8" width="163.0" height="57.3" rx="46.2" ry="28.7" fill="#f9c600"/>
<rect x="309.0" y="245.4" width="159.0" height="52.3" rx="42.9" ry="26.1" fill="#fbbe00"/>
<rect x="311.0" y="247.9" width="155.0" height="47.3" rx="39.6" ry="23.6" fill="#feb600"/>
<rect x="313.0" y="250.3" width="151.0" height="42.3" rx="36.1" ry="21.2" fill="#ffaf00"/>
<rect x="315.0" y="252.8" width="147.0" height="37.5" rx="32.6" ry="18.7" fill="#ffa800"/>
<rect x="317.0" y="255.2" width="143.0" height="32.6" rx="28.8" ry="16.3" fill="#ffa100"/>
<rect x="319.0" y="257.6" width="139.0" height="27.7" rx="25.0" ry="13.9" fill="#ff9a00"/>
<rect x="321.0" y="260.1" width="135.0" height="22.9" rx="21.0" ry="11.4" fill="#ff9300"/>
<rect x="323.0" y="262.5" width="131.0" height="18.0" rx="16.8" ry="9.0" fill="#ff8c00"/>
<rect x="325.0" y="265.1" width="127.0" height="12.9" rx="12.3" ry="6.4" fill="#ff8a00"/>
<rect x="327.0" y="267.6" width="123.0" height="7.7" rx="7.6" ry="3.9" fill="#ff8900"/>
<rect x="329.0" y="270.2" width="119.0" height="2.6" rx="2.6" ry="1.3" fill="#ff8800"/>

<ellipse cx="336" cy="267.5" rx="42" ry="29" fill="url(#hotA)"/>
<ellipse cx="441" cy="267.5" rx="42" ry="29" fill="url(#hotA)"/>
<circle cx="89" cy="443" r="60" fill="url(#dk1)" filter="url(#bl5)"/>
<circle cx="687.5" cy="443" r="60" fill="url(#dk1)" filter="url(#bl5)"/>
</g>
<path d="M20 443 L89 443 L327 273.6 Q330 271.5 333.5 271.5 L443.5 271.5 Q447 271.5 450 273.6 L687.5 443 L760 443 L760 530 L20 530 Z" fill="#00007e" filter="url(#soft1)"/>
</g>
<clipPath id="cpB"><rect x="752.3" y="33.3" width="693.8" height="476.0"/></clipPath>
<g clip-path="url(#cpB)"><g filter="url(#soft)">
<rect x="732.3" y="13.299999999999997" width="733.8" height="516.0" fill="#0028f0"/>
<rect x="624.5" y="-271.7" width="952.4" height="1092.0" rx="471.9" ry="546.0" fill="#0028f0"/>
<rect x="628.5" y="-266.9" width="944.4" height="1082.3" rx="467.8" ry="541.2" fill="#0029f0"/>
<rect x="632.5" y="-262.0" width="936.4" height="1072.7" rx="463.8" ry="536.3" fill="#002af0"/>
<rect x="636.5" y="-257.2" width="928.4" height="1063.0" rx="459.8" ry="531.5" fill="#002af0"/>
<rect x="640.5" y="-252.4" width="920.4" height="1053.3" rx="455.7" ry="526.7" fill="#002bf0"/>
<rect x="644.5" y="-247.5" width="912.4" height="1043.7" rx="451.7" ry="521.8" fill="#002cf0"/>
<rect x="648.5" y="-242.7" width="904.4" height="1034.0" rx="447.6" ry="517.0" fill="#002cf0"/>
<rect x="652.5" y="-237.9" width="896.4" height="1024.3" rx="443.6" ry="512.2" fill="#002df0"/>
<rect x="656.5" y="-233.0" width="888.4" height="1014.7" rx="439.5" ry="507.3" fill="#002ef0"/>
<rect x="660.5" y="-228.2" width="880.4" height="1005.0" rx="435.5" ry="502.5" fill="#002ef0"/>
<rect x="664.5" y="-223.4" width="872.4" height="995.4" rx="431.5" ry="497.7" fill="#002ff0"/>
<rect x="668.5" y="-218.5" width="864.4" height="985.7" rx="427.4" ry="492.8" fill="#0030f0"/>
<rect x="672.5" y="-213.7" width="856.4" height="976.0" rx="423.4" ry="488.0" fill="#0031f0"/>
<rect x="676.5" y="-208.9" width="848.4" height="966.4" rx="419.3" ry="483.2" fill="#0031f0"/>
<rect x="680.5" y="-204.0" width="840.4" height="956.7" rx="415.3" ry="478.3" fill="#0032f0"/>
<rect x="684.5" y="-199.2" width="832.4" height="947.0" rx="411.2" ry="473.5" fill="#0033f0"/>
<rect x="688.5" y="-194.4" width="824.4" height="937.4" rx="407.2" ry="468.7" fill="#0033f0"/>
<rect x="692.5" y="-189.6" width="816.4" height="927.7" rx="403.1" ry="463.9" fill="#0034f0"/>
<rect x="696.5" y="-184.7" width="808.4" height="918.0" rx="399.1" ry="459.0" fill="#0035f0"/>
<rect x="700.5" y="-179.9" width="800.4" height="908.4" rx="395.0" ry="454.2" fill="#0035f0"/>
<rect x="704.5" y="-175.1" width="792.4" height="898.7" rx="391.0" ry="449.4" fill="#0036f0"/>
<rect x="708.5" y="-170.2" width="784.4" height="889.0" rx="386.9" ry="444.5" fill="#0037f0"/>
<rect x="712.5" y="-165.4" width="776.4" height="879.4" rx="382.8" ry="439.7" fill="#0038f0"/>
<rect x="716.5" y="-160.6" width="768.4" height="869.7" rx="378.8" ry="434.9" fill="#0038f0"/>
<rect x="720.5" y="-155.7" width="760.4" height="860.1" rx="374.7" ry="430.0" fill="#0039f0"/>
<rect x="724.5" y="-150.9" width="752.4" height="850.4" rx="370.7" ry="425.2" fill="#003af0"/>
<rect x="728.5" y="-146.1" width="744.4" height="840.7" rx="366.6" ry="420.4" fill="#003af0"/>
<rect x="732.5" y="-141.2" width="736.4" height="831.1" rx="362.5" ry="415.5" fill="#003bf0"/>
<rect x="736.5" y="-136.4" width="728.4" height="821.4" rx="358.5" ry="410.7" fill="#003cf0"/>
<rect x="740.5" y="-131.6" width="720.4" height="811.7" rx="354.4" ry="405.9" fill="#003cf0"/>
<rect x="744.5" y="-126.7" width="712.4" height="802.1" rx="350.3" ry="401.0" fill="#003df0"/>
<rect x="748.5" y="-121.9" width="704.4" height="792.4" rx="346.3" ry="396.2" fill="#003ef0"/>
<rect x="752.5" y="-117.1" width="696.4" height="782.7" rx="342.2" ry="391.4" fill="#003ff0"/>
<rect x="756.5" y="-112.2" width="688.4" height="773.1" rx="338.1" ry="386.5" fill="#003ff0"/>
<rect x="760.5" y="-107.4" width="680.4" height="763.4" rx="334.0" ry="381.7" fill="#0040f0"/>
<rect x="764.5" y="-102.6" width="672.4" height="753.7" rx="330.0" ry="376.9" fill="#0041f0"/>
<rect x="768.5" y="-97.7" width="664.4" height="744.1" rx="325.9" ry="372.0" fill="#0042f0"/>
<rect x="772.5" y="-92.9" width="656.4" height="734.4" rx="321.8" ry="367.2" fill="#0042f0"/>
<rect x="776.5" y="-87.9" width="648.4" height="724.3" rx="317.7" ry="362.2" fill="#0044f0"/>
<rect x="780.5" y="-82.8" width="640.4" height="714.1" rx="313.6" ry="357.1" fill="#0045f0"/>
<rect x="784.5" y="-77.7" width="632.4" height="703.9" rx="309.5" ry="352.0" fill="#0047f0"/>
<rect x="788.5" y="-72.6" width="624.4" height="693.7" rx="305.4" ry="346.9" fill="#0048f0"/>
<rect x="792.5" y="-67.4" width="616.4" height="683.5" rx="301.3" ry="341.7" fill="#004af0"/>
<rect x="796.5" y="-62.3" width="608.4" height="673.3" rx="297.2" ry="336.6" fill="#004cf0"/>
<rect x="800.5" y="-57.2" width="600.4" height="663.1" rx="293.1" ry="331.5" fill="#004df0"/>
<rect x="804.5" y="-52.1" width="592.4" height="652.9" rx="289.0" ry="326.4" fill="#004ff0"/>
<rect x="808.5" y="-47.0" width="584.4" height="642.6" rx="284.9" ry="321.3" fill="#0050f0"/>
<rect x="812.5" y="-41.9" width="576.4" height="632.4" rx="280.8" ry="316.2" fill="#0052f0"/>
<rect x="816.5" y="-36.8" width="568.4" height="622.2" rx="276.7" ry="311.1" fill="#0053f0"/>
<rect x="820.5" y="-31.7" width="560.4" height="612.0" rx="272.6" ry="306.0" fill="#0055f0"/>
<rect x="824.5" y="-26.1" width="552.4" height="600.9" rx="268.5" ry="300.4" fill="#0058f0"/>
<rect x="828.5" y="-20.6" width="544.4" height="589.8" rx="264.4" ry="294.9" fill="#005bf0"/>
<rect x="832.5" y="-15.0" width="536.4" height="578.7" rx="260.2" ry="289.3" fill="#005ef0"/>
<rect x="836.5" y="-9.5" width="528.4" height="567.6" rx="256.1" ry="283.8" fill="#0061f0"/>
<rect x="840.5" y="-3.9" width="520.4" height="556.4" rx="252.0" ry="278.2" fill="#0065f1"/>
<rect x="844.5" y="1.6" width="512.4" height="545.3" rx="247.8" ry="272.7" fill="#0068f1"/>
<rect x="848.5" y="7.2" width="504.4" height="534.2" rx="243.7" ry="267.1" fill="#006bf1"/>
<rect x="852.5" y="12.7" width="496.4" height="523.1" rx="239.5" ry="261.6" fill="#006ff1"/>
<rect x="856.5" y="18.3" width="488.4" height="512.0" rx="235.4" ry="256.0" fill="#0072f2"/>
<rect x="860.5" y="23.8" width="480.4" height="500.9" rx="231.2" ry="250.5" fill="#0078f2"/>
<rect x="864.5" y="29.4" width="472.4" height="489.8" rx="227.1" ry="244.9" fill="#007df3"/>
<rect x="868.5" y="34.9" width="464.4" height="478.8" rx="222.9" ry="239.4" fill="#0082f5"/>
<rect x="872.5" y="40.7" width="456.4" height="467.3" rx="218.7" ry="233.6" fill="#0086f6"/>
<rect x="876.5" y="46.5" width="448.4" height="455.6" rx="214.5" ry="227.8" fill="#008af7"/>
<rect x="880.5" y="52.3" width="440.4" height="444.0" rx="210.3" ry="222.0" fill="#008ef8"/>
<rect x="884.5" y="58.1" width="432.4" height="432.4" rx="206.1" ry="216.2" fill="#0092f7"/>
<rect x="888.5" y="63.9" width="424.4" height="420.7" rx="201.9" ry="210.4" fill="#0096f6"/>
<rect x="891.5" y="68.3" width="418.4" height="412.0" rx="198.7" ry="206.0" fill="#0099f5"/>
<rect x="894.5" y="71.9" width="412.4" height="404.7" rx="195.6" ry="202.4" fill="#009df4"/>
<rect x="897.5" y="75.6" width="406.4" height="397.5" rx="192.4" ry="198.7" fill="#00a2f3"/>
<rect x="900.5" y="79.2" width="400.4" height="390.2" rx="189.2" ry="195.1" fill="#00a6f2"/>
<rect x="903.5" y="82.8" width="394.4" height="382.9" rx="186.0" ry="191.5" fill="#00abf1"/>
<rect x="906.5" y="86.5" width="388.4" height="375.6" rx="182.8" ry="187.8" fill="#00b0f0"/>
<rect x="909.5" y="90.1" width="382.4" height="368.4" rx="179.6" ry="184.2" fill="#00b4f0"/>
<rect x="912.5" y="93.8" width="376.4" height="361.1" rx="176.4" ry="180.5" fill="#00b9f0"/>
<rect x="915.5" y="97.4" width="370.4" height="353.8" rx="173.2" ry="176.9" fill="#00bef0"/>
<rect x="918.5" y="101.0" width="364.4" height="346.5" rx="170.0" ry="173.3" fill="#00c3f0"/>
<rect x="921.5" y="104.7" width="358.4" height="339.3" rx="166.8" ry="169.6" fill="#00c8f0"/>
<rect x="924.5" y="108.3" width="352.4" height="332.0" rx="163.5" ry="166.0" fill="#00cdf0"/>
<rect x="927.5" y="111.9" width="346.4" height="324.8" rx="160.3" ry="162.4" fill="#00d1ef"/>
<rect x="930.5" y="115.5" width="340.4" height="317.6" rx="157.0" ry="158.8" fill="#00d6ef"/>
<rect x="933.5" y="119.1" width="334.4" height="310.5" rx="153.7" ry="155.2" fill="#00daee"/>
<rect x="936.5" y="122.7" width="328.4" height="303.3" rx="150.4" ry="151.6" fill="#00dfed"/>
<rect x="939.5" y="126.2" width="322.4" height="296.1" rx="147.1" ry="148.1" fill="#00e3ed"/>
<rect x="942.5" y="129.8" width="316.4" height="288.9" rx="143.8" ry="144.5" fill="#00e8ec"/>
<rect x="945.5" y="133.4" width="310.4" height="281.7" rx="140.5" ry="140.9" fill="#00ecec"/>
<rect x="948.5" y="137.3" width="304.4" height="273.9" rx="137.2" ry="136.9" fill="#00f0e9"/>
<rect x="951.5" y="142.5" width="298.4" height="263.2" rx="133.8" ry="131.6" fill="#00f0de"/>
<rect x="954.5" y="147.7" width="292.4" height="252.6" rx="130.5" ry="126.3" fill="#00efd4"/>
<rect x="957.5" y="152.8" width="286.4" height="241.9" rx="127.1" ry="121.0" fill="#00efc9"/>
<rect x="960.5" y="158.0" width="280.4" height="231.3" rx="123.7" ry="115.6" fill="#00efbf"/>
<rect x="963.5" y="163.1" width="274.4" height="220.6" rx="120.2" ry="110.3" fill="#00eeb4"/>
<rect x="966.5" y="168.3" width="268.4" height="210.0" rx="116.8" ry="105.0" fill="#00eeaa"/>
<rect x="969.5" y="171.6" width="262.4" height="202.8" rx="113.3" ry="101.4" fill="#00eda3"/>
<rect x="972.5" y="174.9" width="256.4" height="195.6" rx="109.8" ry="97.8" fill="#00ed9c"/>
<rect x="975.5" y="178.3" width="250.4" height="188.4" rx="106.3" ry="94.2" fill="#00ec95"/>
<rect x="977.5" y="180.5" width="246.4" height="183.6" rx="103.9" ry="91.8" fill="#00ec90"/>
<rect x="979.5" y="182.7" width="242.4" height="178.8" rx="101.5" ry="89.4" fill="#00ec8c"/>
<rect x="981.5" y="184.9" width="238.4" height="174.0" rx="99.1" ry="87.0" fill="#00eb87"/>
<rect x="983.5" y="187.1" width="234.4" height="169.2" rx="96.7" ry="84.6" fill="#00eb82"/>
<rect x="985.5" y="189.3" width="230.4" height="164.4" rx="94.3" ry="82.2" fill="#00ea7d"/>
<rect x="987.5" y="191.5" width="226.4" height="159.6" rx="91.8" ry="79.8" fill="#00ea79"/>
<rect x="989.5" y="193.7" width="222.4" height="154.8" rx="89.3" ry="77.4" fill="#00ea74"/>
<rect x="991.5" y="196.0" width="218.4" height="150.0" rx="86.8" ry="75.0" fill="#00e96f"/>
<rect x="993.5" y="198.2" width="214.4" height="145.2" rx="84.3" ry="72.6" fill="#00e96b"/>
<rect x="995.5" y="200.4" width="210.4" height="140.4" rx="81.8" ry="70.2" fill="#00e966"/>
<rect x="997.5" y="202.6" width="206.4" height="135.6" rx="79.2" ry="67.8" fill="#00e861"/>
<rect x="999.5" y="205.0" width="202.4" height="130.4" rx="76.6" ry="65.2" fill="#5feb3c"/>
<rect x="1001.5" y="207.8" width="198.4" height="124.5" rx="74.0" ry="62.2" fill="#6bec37"/>
<rect x="1003.5" y="210.6" width="194.4" height="118.6" rx="71.3" ry="59.3" fill="#76ec33"/>
<rect x="1005.5" y="213.4" width="190.4" height="112.7" rx="68.6" ry="56.4" fill="#84ed26"/>
<rect x="1007.5" y="216.1" width="186.4" height="106.8" rx="65.9" ry="53.4" fill="#93ee17"/>
<rect x="1009.5" y="218.9" width="182.4" height="100.9" rx="63.1" ry="50.5" fill="#a2ef08"/>
<rect x="1011.5" y="221.6" width="178.4" height="95.2" rx="60.3" ry="47.6" fill="#aff000"/>
<rect x="1013.5" y="224.2" width="174.4" height="89.7" rx="57.4" ry="44.8" fill="#b9ef00"/>
<rect x="1015.5" y="226.8" width="170.4" height="84.2" rx="54.5" ry="42.1" fill="#c3ee00"/>
<rect x="1017.5" y="229.5" width="166.4" height="78.6" rx="51.5" ry="39.3" fill="#ceed00"/>
<rect x="1019.5" y="232.1" width="162.4" height="73.1" rx="48.4" ry="36.5" fill="#d8ed00"/>
<rect x="1021.5" y="234.7" width="158.4" height="67.5" rx="45.3" ry="33.8" fill="#e2ec00"/>
<rect x="1023.5" y="237.3" width="154.4" height="62.0" rx="42.1" ry="31.0" fill="#eceb00"/>
<rect x="1025.5" y="240.3" width="150.4" height="56.0" rx="38.8" ry="28.0" fill="#eee400"/>
<rect x="1027.5" y="243.3" width="146.4" height="50.0" rx="35.4" ry="25.0" fill="#f1dd00"/>
<rect x="1029.5" y="246.3" width="142.4" height="44.0" rx="31.9" ry="22.0" fill="#f3d500"/>
<rect x="1031.5" y="249.3" width="138.4" height="38.0" rx="28.2" ry="19.0" fill="#f6ce00"/>
<rect x="1033.5" y="252.3" width="134.4" height="32.0" rx="24.4" ry="16.0" fill="#f8c700"/>
<rect x="1035.5" y="255.3" width="130.4" height="26.0" rx="20.5" ry="13.0" fill="#fbc000"/>
<rect x="1037.5" y="258.3" width="126.4" height="20.0" rx="16.4" ry="10.0" fill="#fdb900"/>
<rect x="1039.5" y="261.2" width="122.4" height="14.3" rx="12.0" ry="7.1" fill="#ffb300"/>
<rect x="1041.5" y="264.0" width="118.4" height="8.6" rx="7.4" ry="4.3" fill="#ffae00"/>
<rect x="1043.5" y="266.9" width="114.4" height="2.9" rx="2.6" ry="1.4" fill="#ffa900"/>

<ellipse cx="1046.5" cy="267.5" rx="36" ry="32" fill="url(#hotB)"/>
<ellipse cx="1154" cy="267.5" rx="36" ry="32" fill="url(#hotB)"/>
<circle cx="864" cy="433" r="92" fill="url(#dk2)" filter="url(#bl5)"/>
<circle cx="1339.5" cy="433" r="92" fill="url(#dk2)" filter="url(#bl5)"/>
</g>
<path d="M730 440 L872 440 L1042.5 269.8 Q1045 267.3 1048.5 267.3 L1152 267.3 Q1155.5 267.3 1158 269.8 L1331.7 440 L1470 440 L1470 530 L730 530 Z" fill="#00007e" filter="url(#soft1)"/>
</g>
<clipPath id="cpC"><rect x="38.7" y="527.2" width="697.3" height="475.4"/></clipPath>
<g clip-path="url(#cpC)"><g filter="url(#soft)">
<rect x="18.700000000000003" y="507.20000000000005" width="737.3" height="515.4" fill="#0028f0"/>
<rect x="-89.0" y="258.7" width="955.0" height="990.0" rx="473.1" ry="495.0" fill="#0028f0"/>
<rect x="-85.0" y="263.4" width="947.0" height="980.5" rx="469.0" ry="490.3" fill="#0029f0"/>
<rect x="-81.0" y="268.2" width="939.0" height="971.1" rx="465.0" ry="485.5" fill="#002af0"/>
<rect x="-77.0" y="272.9" width="931.0" height="961.6" rx="461.0" ry="480.8" fill="#002af0"/>
<rect x="-73.0" y="277.6" width="923.0" height="952.1" rx="456.9" ry="476.1" fill="#002bf0"/>
<rect x="-69.0" y="282.4" width="915.0" height="942.6" rx="452.9" ry="471.3" fill="#002cf0"/>
<rect x="-65.0" y="287.1" width="907.0" height="933.2" rx="448.8" ry="466.6" fill="#002cf0"/>
<rect x="-61.0" y="291.9" width="899.0" height="923.7" rx="444.8" ry="461.8" fill="#002df0"/>
<rect x="-57.0" y="296.6" width="891.0" height="914.2" rx="440.7" ry="457.1" fill="#002ef0"/>
<rect x="-53.0" y="301.3" width="883.0" height="904.7" rx="436.7" ry="452.4" fill="#002ef0"/>
<rect x="-49.0" y="306.1" width="875.0" height="895.3" rx="432.7" ry="447.6" fill="#002ff0"/>
<rect x="-45.0" y="310.8" width="867.0" height="885.8" rx="428.6" ry="442.9" fill="#0030f0"/>
<rect x="-41.0" y="315.5" width="859.0" height="876.3" rx="424.6" ry="438.2" fill="#0030f0"/>
<rect x="-37.0" y="320.3" width="851.0" height="866.8" rx="420.5" ry="433.4" fill="#0031f0"/>
<rect x="-33.0" y="325.0" width="843.0" height="857.4" rx="416.5" ry="428.7" fill="#0032f0"/>
<rect x="-29.0" y="329.8" width="835.0" height="847.9" rx="412.4" ry="423.9" fill="#0032f0"/>
<rect x="-25.0" y="334.5" width="827.0" height="838.4" rx="408.4" ry="419.2" fill="#0033f0"/>
<rect x="-21.0" y="339.2" width="819.0" height="828.9" rx="404.3" ry="414.5" fill="#0034f0"/>
<rect x="-17.0" y="344.0" width="811.0" height="819.5" rx="400.2" ry="409.7" fill="#0034f0"/>
<rect x="-13.0" y="348.7" width="803.0" height="810.0" rx="396.2" ry="405.0" fill="#0035f0"/>
<rect x="-9.0" y="353.4" width="795.0" height="800.5" rx="392.1" ry="400.3" fill="#0036f0"/>
<rect x="-5.0" y="358.2" width="787.0" height="791.1" rx="388.1" ry="395.5" fill="#0037f0"/>
<rect x="-1.0" y="362.9" width="779.0" height="781.6" rx="384.0" ry="390.8" fill="#0037f0"/>
<rect x="3.0" y="367.6" width="771.0" height="772.1" rx="380.0" ry="386.1" fill="#0038f0"/>
<rect x="7.0" y="372.4" width="763.0" height="762.6" rx="375.9" ry="381.3" fill="#0039f0"/>
<rect x="11.0" y="377.1" width="755.0" height="753.2" rx="371.8" ry="376.6" fill="#0039f0"/>
<rect x="15.0" y="381.9" width="747.0" height="743.7" rx="367.8" ry="371.8" fill="#003af0"/>
<rect x="19.0" y="386.6" width="739.0" height="734.2" rx="363.7" ry="367.1" fill="#003bf0"/>
<rect x="23.0" y="391.3" width="731.0" height="724.7" rx="359.6" ry="362.4" fill="#003bf0"/>
<rect x="27.0" y="396.1" width="723.0" height="715.3" rx="355.6" ry="357.6" fill="#003cf0"/>
<rect x="31.0" y="400.8" width="715.0" height="705.8" rx="351.5" ry="352.9" fill="#003df0"/>
<rect x="35.0" y="405.5" width="707.0" height="696.3" rx="347.4" ry="348.2" fill="#003df0"/>
<rect x="39.0" y="410.3" width="699.0" height="686.8" rx="343.3" ry="343.4" fill="#003ef0"/>
<rect x="43.0" y="415.0" width="691.0" height="677.4" rx="339.3" ry="338.7" fill="#003ff0"/>
<rect x="47.0" y="419.8" width="683.0" height="667.9" rx="335.2" ry="333.9" fill="#003ff0"/>
<rect x="51.0" y="424.5" width="675.0" height="658.4" rx="331.1" ry="329.2" fill="#0040f0"/>
<rect x="55.0" y="429.2" width="667.0" height="648.9" rx="327.0" ry="324.5" fill="#0041f0"/>
<rect x="59.0" y="434.0" width="659.0" height="639.5" rx="322.9" ry="319.7" fill="#0042f0"/>
<rect x="63.0" y="438.7" width="651.0" height="630.0" rx="318.9" ry="315.0" fill="#0043f0"/>
<rect x="67.0" y="443.4" width="643.0" height="620.6" rx="314.8" ry="310.3" fill="#0044f0"/>
<rect x="71.0" y="448.1" width="635.0" height="611.3" rx="310.7" ry="305.6" fill="#0046f0"/>
<rect x="75.0" y="452.7" width="627.0" height="601.9" rx="306.6" ry="301.0" fill="#0047f0"/>
<rect x="79.0" y="457.4" width="619.0" height="592.6" rx="302.5" ry="296.3" fill="#0049f0"/>
<rect x="83.0" y="462.1" width="611.0" height="583.2" rx="298.4" ry="291.6" fill="#004af0"/>
<rect x="87.0" y="466.8" width="603.0" height="573.8" rx="294.3" ry="286.9" fill="#004cf0"/>
<rect x="91.0" y="471.5" width="595.0" height="564.5" rx="290.2" ry="282.2" fill="#004df0"/>
<rect x="95.0" y="476.1" width="587.0" height="555.1" rx="286.1" ry="277.6" fill="#004ff0"/>
<rect x="99.0" y="480.8" width="579.0" height="545.7" rx="282.0" ry="272.9" fill="#0051f0"/>
<rect x="103.0" y="485.5" width="571.0" height="536.4" rx="277.8" ry="268.2" fill="#0052f0"/>
<rect x="107.0" y="490.2" width="563.0" height="527.0" rx="273.7" ry="263.5" fill="#0054f0"/>
<rect x="111.0" y="494.9" width="555.0" height="517.6" rx="269.6" ry="258.8" fill="#0055f0"/>
<rect x="115.0" y="499.7" width="547.0" height="508.1" rx="265.5" ry="254.0" fill="#0058f0"/>
<rect x="119.0" y="504.4" width="539.0" height="498.6" rx="261.4" ry="249.3" fill="#005af0"/>
<rect x="123.0" y="509.2" width="531.0" height="489.0" rx="257.2" ry="244.5" fill="#005df0"/>
<rect x="127.0" y="513.9" width="523.0" height="479.5" rx="253.1" ry="239.8" fill="#0060f0"/>
<rect x="131.0" y="518.7" width="515.0" height="470.0" rx="248.9" ry="235.0" fill="#0063f1"/>
<rect x="135.0" y="523.5" width="507.0" height="460.5" rx="244.8" ry="230.2" fill="#0066f1"/>
<rect x="139.0" y="528.2" width="499.0" height="451.0" rx="240.6" ry="225.5" fill="#0069f1"/>
<rect x="143.0" y="533.0" width="491.0" height="441.4" rx="236.5" ry="220.7" fill="#006cf1"/>
<rect x="147.0" y="537.7" width="483.0" height="431.9" rx="232.3" ry="216.0" fill="#006ef1"/>
<rect x="151.0" y="542.5" width="475.0" height="422.4" rx="228.1" ry="211.2" fill="#0071f2"/>
<rect x="155.0" y="546.7" width="467.0" height="414.0" rx="224.0" ry="207.0" fill="#0075f2"/>
<rect x="159.0" y="550.7" width="459.0" height="406.0" rx="219.8" ry="203.0" fill="#0079f2"/>
<rect x="163.0" y="554.7" width="451.0" height="398.0" rx="215.6" ry="199.0" fill="#007df3"/>
<rect x="167.0" y="558.7" width="443.0" height="390.0" rx="211.4" ry="195.0" fill="#0081f4"/>
<rect x="171.0" y="562.7" width="435.0" height="382.0" rx="207.2" ry="191.0" fill="#0085f5"/>
<rect x="175.0" y="566.7" width="427.0" height="374.0" rx="203.0" ry="187.0" fill="#0089f7"/>
<rect x="178.0" y="569.7" width="421.0" height="368.0" rx="199.8" ry="184.0" fill="#008cf7"/>
<rect x="181.0" y="572.7" width="415.0" height="362.0" rx="196.6" ry="181.0" fill="#008ef8"/>
<rect x="184.0" y="575.7" width="409.0" height="356.0" rx="193.4" ry="178.0" fill="#0091f7"/>
<rect x="187.0" y="578.7" width="403.0" height="350.0" rx="190.3" ry="175.0" fill="#0094f6"/>
<rect x="190.0" y="581.7" width="397.0" height="344.0" rx="187.1" ry="172.0" fill="#0097f6"/>
<rect x="193.0" y="584.7" width="391.0" height="337.9" rx="183.9" ry="169.0" fill="#009af5"/>
<rect x="196.0" y="587.8" width="385.0" height="331.8" rx="180.7" ry="165.9" fill="#009ff4"/>
<rect x="199.0" y="590.9" width="379.0" height="325.6" rx="177.4" ry="162.8" fill="#00a3f3"/>
<rect x="202.0" y="594.0" width="373.0" height="319.4" rx="174.2" ry="159.7" fill="#00a7f2"/>
<rect x="205.0" y="597.1" width="367.0" height="313.3" rx="171.0" ry="156.6" fill="#00abf1"/>
<rect x="208.0" y="600.2" width="361.0" height="307.1" rx="167.8" ry="153.5" fill="#00b0f0"/>
<rect x="211.0" y="603.2" width="355.0" height="300.9" rx="164.5" ry="150.5" fill="#00b4f0"/>
<rect x="214.0" y="606.3" width="349.0" height="294.7" rx="161.3" ry="147.4" fill="#00b9f0"/>
<rect x="217.0" y="609.4" width="343.0" height="288.6" rx="158.0" ry="144.3" fill="#00bef0"/>
<rect x="220.0" y="612.5" width="337.0" height="282.4" rx="154.7" ry="141.2" fill="#00c2f0"/>
<rect x="223.0" y="615.6" width="331.0" height="276.2" rx="151.4" ry="138.1" fill="#00c7f0"/>
<rect x="226.0" y="618.7" width="325.0" height="270.1" rx="148.1" ry="135.0" fill="#00cbf0"/>
<rect x="229.0" y="622.1" width="319.0" height="263.2" rx="144.8" ry="131.6" fill="#00d1ef"/>
<rect x="232.0" y="625.8" width="313.0" height="255.9" rx="141.5" ry="127.9" fill="#00d6ef"/>
<rect x="235.0" y="629.4" width="307.0" height="248.6" rx="138.1" ry="124.3" fill="#00dcee"/>
<rect x="238.0" y="633.0" width="301.0" height="241.4" rx="134.8" ry="120.7" fill="#00e1ed"/>
<rect x="241.0" y="636.6" width="295.0" height="234.1" rx="131.4" ry="117.1" fill="#00e7ec"/>
<rect x="244.0" y="640.3" width="289.0" height="226.8" rx="128.0" ry="113.4" fill="#00ecec"/>
<rect x="247.0" y="644.4" width="283.0" height="218.9" rx="124.6" ry="109.4" fill="#00f0e7"/>
<rect x="250.0" y="649.4" width="277.0" height="209.6" rx="121.2" ry="104.8" fill="#00f0dc"/>
<rect x="253.0" y="654.4" width="271.0" height="200.3" rx="117.7" ry="100.1" fill="#00efd0"/>
<rect x="256.0" y="659.4" width="265.0" height="190.9" rx="114.2" ry="95.5" fill="#00efc5"/>
<rect x="259.0" y="664.4" width="259.0" height="181.6" rx="110.7" ry="90.8" fill="#00eeb9"/>
<rect x="262.0" y="669.4" width="253.0" height="172.3" rx="107.1" ry="86.2" fill="#00eeae"/>
<rect x="264.0" y="672.3" width="249.0" height="167.1" rx="104.8" ry="83.5" fill="#00eea7"/>
<rect x="266.0" y="674.6" width="245.0" height="162.8" rx="102.4" ry="81.4" fill="#00eda1"/>
<rect x="268.0" y="677.0" width="241.0" height="158.6" rx="100.0" ry="79.3" fill="#00ed9c"/>
<rect x="270.0" y="679.3" width="237.0" height="154.3" rx="97.5" ry="77.2" fill="#00ec96"/>
<rect x="272.0" y="681.7" width="233.0" height="150.1" rx="95.1" ry="75.0" fill="#00ec90"/>
<rect x="274.0" y="684.0" width="229.0" height="145.8" rx="92.6" ry="72.9" fill="#00eb8a"/>
<rect x="276.0" y="686.4" width="225.0" height="141.6" rx="90.1" ry="70.8" fill="#00eb84"/>
<rect x="278.0" y="688.8" width="221.0" height="137.4" rx="87.6" ry="68.7" fill="#00eb7f"/>
<rect x="280.0" y="691.1" width="217.0" height="133.1" rx="85.1" ry="66.6" fill="#00ea79"/>
<rect x="282.0" y="693.5" width="213.0" height="128.9" rx="82.5" ry="64.4" fill="#00ea73"/>
<rect x="284.0" y="695.8" width="209.0" height="124.6" rx="80.0" ry="62.3" fill="#00e96d"/>
<rect x="286.0" y="698.2" width="205.0" height="120.4" rx="77.3" ry="60.2" fill="#00e968"/>
<rect x="288.0" y="700.5" width="201.0" height="116.1" rx="74.7" ry="58.1" fill="#00e862"/>
<rect x="290.0" y="703.0" width="197.0" height="111.5" rx="72.0" ry="55.7" fill="#60eb3c"/>
<rect x="292.0" y="705.6" width="193.0" height="106.2" rx="69.3" ry="53.1" fill="#6eec36"/>
<rect x="294.0" y="708.2" width="189.0" height="101.0" rx="66.5" ry="50.5" fill="#7dec2d"/>
<rect x="296.0" y="710.8" width="185.0" height="95.8" rx="63.8" ry="47.9" fill="#8fee1b"/>
<rect x="298.0" y="713.4" width="181.0" height="90.6" rx="60.9" ry="45.3" fill="#a1ef09"/>
<rect x="300.0" y="715.9" width="177.0" height="85.7" rx="58.0" ry="42.8" fill="#b0f000"/>
<rect x="302.0" y="718.2" width="173.0" height="81.0" rx="55.1" ry="40.5" fill="#baef00"/>
<rect x="304.0" y="720.5" width="169.0" height="76.3" rx="52.0" ry="38.2" fill="#c6ee00"/>
<rect x="306.0" y="722.9" width="165.0" height="71.7" rx="49.0" ry="35.8" fill="#d0ed00"/>
<rect x="308.0" y="725.2" width="161.0" height="67.0" rx="45.8" ry="33.5" fill="#dcec00"/>
<rect x="310.0" y="727.5" width="157.0" height="62.3" rx="42.6" ry="31.2" fill="#e6eb00"/>
<rect x="312.0" y="730.2" width="153.0" height="56.9" rx="39.2" ry="28.5" fill="#ede800"/>
<rect x="314.0" y="733.3" width="149.0" height="50.8" rx="35.8" ry="25.4" fill="#efe300"/>
<rect x="316.0" y="736.4" width="145.0" height="44.6" rx="32.2" ry="22.3" fill="#f1dd00"/>
<rect x="318.0" y="739.5" width="141.0" height="38.5" rx="28.6" ry="19.2" fill="#f3d700"/>
<rect x="320.0" y="742.5" width="137.0" height="32.3" rx="24.8" ry="16.2" fill="#f5d200"/>
<rect x="322.0" y="745.6" width="133.0" height="26.2" rx="20.8" ry="13.1" fill="#f7cc00"/>
<rect x="324.0" y="748.7" width="129.0" height="20.0" rx="16.6" ry="10.0" fill="#f9c600"/>
<rect x="326.0" y="751.6" width="125.0" height="14.3" rx="12.2" ry="7.1" fill="#fac200"/>
<rect x="328.0" y="754.4" width="121.0" height="8.6" rx="7.5" ry="4.3" fill="#fbbe00"/>
<rect x="330.0" y="757.3" width="117.0" height="2.9" rx="2.6" ry="1.4" fill="#fdbb00"/>

<ellipse cx="333" cy="759" rx="36" ry="33" fill="url(#hotB)"/>
<ellipse cx="441.5" cy="759" rx="36" ry="33" fill="url(#hotB)"/>
<circle cx="196" cy="921" r="132" fill="url(#dk3)" filter="url(#bl5)"/>
<circle cx="580" cy="921" r="132" fill="url(#dk3)" filter="url(#bl5)"/>
</g>
<path d="M20 931 L204.5 931 L329.6 762 Q331.8 759 335.8 759 L439.8 759 Q443.8 759 446 762 L571.5 931 L760 931 L760 1020 L20 1020 Z" fill="#00007e" filter="url(#soft1)"/>
</g>
<clipPath id="cpD"><rect x="752.3" y="527.0" width="697.2" height="473.6"/></clipPath>
<g clip-path="url(#cpD)"><g filter="url(#soft)">
<rect x="732.3" y="507.0" width="737.2" height="513.6" fill="#0008f0"/>
<rect x="603.1" y="237.5" width="994.4" height="1010.0" rx="493.7" ry="505.0" fill="#0008f0"/>
<rect x="607.1" y="241.9" width="986.4" height="1001.3" rx="489.7" ry="500.6" fill="#0008f0"/>
<rect x="611.1" y="246.2" width="978.4" height="992.5" rx="485.6" ry="496.3" fill="#0009f0"/>
<rect x="615.1" y="250.6" width="970.4" height="983.8" rx="481.6" ry="491.9" fill="#0009f0"/>
<rect x="619.1" y="255.0" width="962.4" height="975.1" rx="477.6" ry="487.5" fill="#0009f0"/>
<rect x="623.1" y="259.3" width="954.4" height="966.4" rx="473.5" ry="483.2" fill="#0009f0"/>
<rect x="627.1" y="263.7" width="946.4" height="957.6" rx="469.5" ry="478.8" fill="#000af0"/>
<rect x="631.1" y="268.0" width="938.4" height="948.9" rx="465.5" ry="474.5" fill="#000af0"/>
<rect x="635.1" y="272.4" width="930.4" height="940.2" rx="461.4" ry="470.1" fill="#000af0"/>
<rect x="639.1" y="276.8" width="922.4" height="931.5" rx="457.4" ry="465.7" fill="#000af0"/>
<rect x="643.1" y="281.1" width="914.4" height="922.7" rx="453.3" ry="461.4" fill="#000bf0"/>
<rect x="647.1" y="285.5" width="906.4" height="914.0" rx="449.3" ry="457.0" fill="#000bf0"/>
<rect x="651.1" y="289.9" width="898.4" height="905.3" rx="445.3" ry="452.6" fill="#000bf0"/>
<rect x="655.1" y="294.2" width="890.4" height="896.5" rx="441.2" ry="448.3" fill="#000cf0"/>
<rect x="659.1" y="298.6" width="882.4" height="887.8" rx="437.2" ry="443.9" fill="#000cf0"/>
<rect x="663.1" y="303.0" width="874.4" height="879.1" rx="433.1" ry="439.5" fill="#000cf0"/>
<rect x="667.1" y="307.3" width="866.4" height="870.4" rx="429.1" ry="435.2" fill="#000cf0"/>
<rect x="671.1" y="311.7" width="858.4" height="861.6" rx="425.0" ry="430.8" fill="#000df0"/>
<rect x="675.1" y="316.0" width="850.4" height="852.9" rx="421.0" ry="426.5" fill="#000df0"/>
<rect x="679.1" y="320.4" width="842.4" height="844.2" rx="417.0" ry="422.1" fill="#000df0"/>
<rect x="683.1" y="324.8" width="834.4" height="835.5" rx="412.9" ry="417.7" fill="#000df0"/>
<rect x="687.1" y="329.1" width="826.4" height="826.7" rx="408.9" ry="413.4" fill="#000ef0"/>
<rect x="691.1" y="333.5" width="818.4" height="818.0" rx="404.8" ry="409.0" fill="#000ef0"/>
<rect x="695.1" y="337.9" width="810.4" height="809.3" rx="400.8" ry="404.6" fill="#000ef0"/>
<rect x="699.1" y="342.2" width="802.4" height="800.5" rx="396.7" ry="400.3" fill="#000ff0"/>
<rect x="703.1" y="346.6" width="794.4" height="791.8" rx="392.7" ry="395.9" fill="#000ff0"/>
<rect x="707.1" y="351.0" width="786.4" height="783.1" rx="388.6" ry="391.5" fill="#000ff0"/>
<rect x="711.1" y="355.3" width="778.4" height="774.4" rx="384.5" ry="387.2" fill="#000ff0"/>
<rect x="715.1" y="359.7" width="770.4" height="765.6" rx="380.5" ry="382.8" fill="#0010f0"/>
<rect x="719.1" y="364.0" width="762.4" height="756.9" rx="376.4" ry="378.5" fill="#0010f0"/>
<rect x="723.1" y="368.4" width="754.4" height="748.2" rx="372.4" ry="374.1" fill="#0010f0"/>
<rect x="727.1" y="372.8" width="746.4" height="739.5" rx="368.3" ry="369.7" fill="#0010f0"/>
<rect x="731.1" y="377.1" width="738.4" height="730.7" rx="364.3" ry="365.4" fill="#0011f0"/>
<rect x="735.1" y="381.5" width="730.4" height="722.0" rx="360.2" ry="361.0" fill="#0011f0"/>
<rect x="739.1" y="385.9" width="722.4" height="713.3" rx="356.1" ry="356.6" fill="#0011f0"/>
<rect x="743.1" y="390.2" width="714.4" height="704.5" rx="352.1" ry="352.3" fill="#0012f0"/>
<rect x="747.1" y="394.6" width="706.4" height="695.8" rx="348.0" ry="347.9" fill="#0012f0"/>
<rect x="751.1" y="399.0" width="698.4" height="687.1" rx="343.9" ry="343.5" fill="#0012f0"/>
<rect x="755.1" y="403.3" width="690.4" height="678.4" rx="339.8" ry="339.2" fill="#0012f0"/>
<rect x="759.1" y="407.7" width="682.4" height="669.6" rx="335.8" ry="334.8" fill="#0013f0"/>
<rect x="763.1" y="412.0" width="674.4" height="660.9" rx="331.7" ry="330.5" fill="#0013f0"/>
<rect x="767.1" y="416.4" width="666.4" height="652.2" rx="327.6" ry="326.1" fill="#0013f0"/>
<rect x="771.1" y="421.3" width="658.4" height="642.3" rx="323.5" ry="321.2" fill="#0014f0"/>
<rect x="775.1" y="426.4" width="650.4" height="632.1" rx="319.4" ry="316.1" fill="#0016f0"/>
<rect x="779.1" y="431.5" width="642.4" height="621.9" rx="315.4" ry="311.0" fill="#0018f0"/>
<rect x="783.1" y="436.6" width="634.4" height="611.7" rx="311.3" ry="305.9" fill="#0019f0"/>
<rect x="787.1" y="441.8" width="626.4" height="601.5" rx="307.2" ry="300.7" fill="#001bf0"/>
<rect x="791.1" y="446.9" width="618.4" height="591.3" rx="303.1" ry="295.6" fill="#001cf0"/>
<rect x="795.1" y="452.0" width="610.4" height="581.1" rx="299.0" ry="290.5" fill="#001ef0"/>
<rect x="799.1" y="457.1" width="602.4" height="570.9" rx="294.9" ry="285.4" fill="#0020f0"/>
<rect x="803.1" y="462.2" width="594.4" height="560.6" rx="290.8" ry="280.3" fill="#0021f0"/>
<rect x="807.1" y="467.3" width="586.4" height="550.4" rx="286.7" ry="275.2" fill="#0023f0"/>
<rect x="811.1" y="472.4" width="578.4" height="540.2" rx="282.5" ry="270.1" fill="#0024f0"/>
<rect x="815.1" y="477.5" width="570.4" height="530.0" rx="278.4" ry="265.0" fill="#0026f0"/>
<rect x="819.1" y="482.6" width="562.4" height="519.7" rx="274.3" ry="259.9" fill="#0028f0"/>
<rect x="823.1" y="487.8" width="554.4" height="509.4" rx="270.2" ry="254.7" fill="#002bf0"/>
<rect x="827.1" y="492.9" width="546.4" height="499.1" rx="266.1" ry="249.6" fill="#002df0"/>
<rect x="831.1" y="498.1" width="538.4" height="488.9" rx="261.9" ry="244.4" fill="#0030f0"/>
<rect x="835.1" y="503.2" width="530.4" height="478.6" rx="257.8" ry="239.3" fill="#0032f0"/>
<rect x="839.1" y="508.4" width="522.4" height="468.3" rx="253.6" ry="234.1" fill="#0035f0"/>
<rect x="843.1" y="513.5" width="514.4" height="458.0" rx="249.5" ry="229.0" fill="#0037f0"/>
<rect x="847.1" y="518.6" width="506.4" height="447.7" rx="245.3" ry="223.9" fill="#003af0"/>
<rect x="851.1" y="523.6" width="498.4" height="437.8" rx="241.2" ry="218.9" fill="#003cf0"/>
<rect x="855.1" y="528.0" width="490.4" height="428.9" rx="237.0" ry="214.5" fill="#003ff0"/>
<rect x="859.1" y="532.5" width="482.4" height="420.1" rx="232.8" ry="210.0" fill="#0041f0"/>
<rect x="863.1" y="536.9" width="474.4" height="411.2" rx="228.6" ry="205.6" fill="#0044f0"/>
<rect x="867.1" y="541.3" width="466.4" height="402.4" rx="224.4" ry="201.2" fill="#0047f0"/>
<rect x="870.1" y="544.6" width="460.4" height="395.7" rx="221.3" ry="197.9" fill="#004af0"/>
<rect x="873.1" y="548.0" width="454.4" height="389.1" rx="218.1" ry="194.5" fill="#004cf0"/>
<rect x="876.1" y="551.3" width="448.4" height="382.4" rx="215.0" ry="191.2" fill="#004ef0"/>
<rect x="879.1" y="554.7" width="442.4" height="375.7" rx="211.8" ry="187.8" fill="#0051f0"/>
<rect x="882.1" y="558.1" width="436.4" height="368.7" rx="208.6" ry="184.4" fill="#0053f0"/>
<rect x="885.1" y="561.6" width="430.4" height="361.7" rx="205.4" ry="180.9" fill="#0056f0"/>
<rect x="888.1" y="565.1" width="424.4" height="354.8" rx="202.2" ry="177.4" fill="#0059f0"/>
<rect x="891.1" y="568.6" width="418.4" height="347.8" rx="199.0" ry="173.9" fill="#005cf0"/>
<rect x="894.1" y="572.1" width="412.4" height="340.8" rx="195.8" ry="170.4" fill="#005ff0"/>
<rect x="897.1" y="575.6" width="406.4" height="333.9" rx="192.6" ry="166.9" fill="#0062f1"/>
<rect x="900.1" y="579.0" width="400.4" height="326.9" rx="189.4" ry="163.5" fill="#0065f1"/>
<rect x="903.1" y="582.5" width="394.4" height="319.9" rx="186.2" ry="160.0" fill="#0069f1"/>
<rect x="906.1" y="586.0" width="388.4" height="313.0" rx="182.9" ry="156.5" fill="#006cf1"/>
<rect x="909.1" y="589.5" width="382.4" height="306.0" rx="179.7" ry="153.0" fill="#006ff1"/>
<rect x="912.1" y="592.7" width="376.4" height="299.5" rx="176.4" ry="149.8" fill="#0074f2"/>
<rect x="915.1" y="596.0" width="370.4" height="293.1" rx="173.1" ry="146.5" fill="#0079f2"/>
<rect x="918.1" y="599.2" width="364.4" height="286.6" rx="169.8" ry="143.3" fill="#007ef4"/>
<rect x="921.1" y="602.4" width="358.4" height="280.2" rx="166.5" ry="140.1" fill="#0083f5"/>
<rect x="924.1" y="605.7" width="352.4" height="273.7" rx="163.2" ry="136.8" fill="#0088f6"/>
<rect x="927.1" y="608.9" width="346.4" height="267.2" rx="159.9" ry="133.6" fill="#008cf8"/>
<rect x="930.1" y="612.1" width="340.4" height="260.8" rx="156.5" ry="130.4" fill="#0091f7"/>
<rect x="933.1" y="615.3" width="334.4" height="254.3" rx="153.2" ry="127.2" fill="#0096f6"/>
<rect x="936.1" y="618.6" width="328.4" height="247.7" rx="149.8" ry="123.9" fill="#009bf5"/>
<rect x="939.1" y="622.0" width="322.4" height="241.0" rx="146.4" ry="120.5" fill="#00a2f3"/>
<rect x="942.1" y="625.4" width="316.4" height="234.2" rx="142.9" ry="117.1" fill="#00a8f2"/>
<rect x="945.1" y="628.8" width="310.4" height="227.4" rx="139.4" ry="113.7" fill="#00aff0"/>
<rect x="948.1" y="632.2" width="304.4" height="220.6" rx="135.9" ry="110.3" fill="#00b6f0"/>
<rect x="951.1" y="635.6" width="298.4" height="213.8" rx="132.4" ry="106.9" fill="#00bdf0"/>
<rect x="954.1" y="639.0" width="292.4" height="207.0" rx="128.9" ry="103.5" fill="#00c4f0"/>
<rect x="956.1" y="641.2" width="288.4" height="202.5" rx="126.5" ry="101.3" fill="#00c8f0"/>
<rect x="958.1" y="643.5" width="284.4" height="198.0" rx="124.0" ry="99.0" fill="#00cdf0"/>
<rect x="960.1" y="646.2" width="280.4" height="192.6" rx="121.6" ry="96.3" fill="#00d2ef"/>
<rect x="962.1" y="648.9" width="276.4" height="187.2" rx="119.1" ry="93.6" fill="#00d6ef"/>
<rect x="964.1" y="651.6" width="272.4" height="181.7" rx="116.7" ry="90.9" fill="#00dbee"/>
<rect x="966.1" y="654.3" width="268.4" height="176.3" rx="114.1" ry="88.2" fill="#00dfed"/>
<rect x="968.1" y="657.0" width="264.4" height="170.9" rx="111.6" ry="85.5" fill="#00e4ed"/>
<rect x="970.1" y="659.8" width="260.4" height="165.5" rx="109.0" ry="82.7" fill="#00e8ec"/>
<rect x="972.1" y="662.5" width="256.4" height="160.1" rx="106.5" ry="80.0" fill="#00edeb"/>
<rect x="974.1" y="665.3" width="252.4" height="154.5" rx="103.8" ry="77.3" fill="#00f0e8"/>
<rect x="976.1" y="668.5" width="248.4" height="148.7" rx="101.2" ry="74.3" fill="#00f0df"/>
<rect x="978.1" y="671.8" width="244.4" height="142.8" rx="98.4" ry="71.4" fill="#00efd4"/>
<rect x="980.1" y="675.0" width="240.4" height="137.0" rx="95.7" ry="68.5" fill="#00efca"/>
<rect x="982.1" y="678.2" width="236.4" height="131.2" rx="92.9" ry="65.6" fill="#00efc0"/>
<rect x="984.1" y="681.5" width="232.4" height="125.3" rx="90.0" ry="62.7" fill="#00eeb6"/>
<rect x="986.1" y="684.7" width="228.4" height="119.5" rx="87.1" ry="59.7" fill="#00eeac"/>
<rect x="988.1" y="687.7" width="224.4" height="114.1" rx="84.1" ry="57.1" fill="#00eea4"/>
<rect x="990.1" y="690.6" width="220.4" height="109.0" rx="81.1" ry="54.5" fill="#00ed9c"/>
<rect x="992.1" y="693.5" width="216.4" height="103.8" rx="77.9" ry="51.9" fill="#00ec94"/>
<rect x="994.1" y="696.4" width="212.4" height="98.7" rx="74.7" ry="49.3" fill="#00ec8c"/>
<rect x="996.1" y="699.2" width="208.4" height="93.5" rx="71.3" ry="46.8" fill="#00eb84"/>
<rect x="998.1" y="702.1" width="204.4" height="88.4" rx="67.9" ry="44.2" fill="#00ea7c"/>
<rect x="1000.1" y="705.0" width="200.4" height="83.2" rx="64.3" ry="41.6" fill="#00ea74"/>
<rect x="1002.1" y="707.9" width="196.4" height="78.1" rx="60.5" ry="39.0" fill="#00e96c"/>
<rect x="1004.1" y="710.8" width="192.4" height="72.9" rx="56.6" ry="36.5" fill="#00e864"/>
<rect x="1006.1" y="713.7" width="188.4" height="67.8" rx="52.5" ry="33.9" fill="#5feb3c"/>
<rect x="1008.1" y="716.8" width="184.4" height="62.5" rx="48.1" ry="31.3" fill="#6eec36"/>
<rect x="1010.1" y="719.8" width="180.4" height="57.2" rx="43.4" ry="28.6" fill="#80ed2a"/>
<rect x="1012.1" y="722.9" width="176.4" height="51.9" rx="38.4" ry="26.0" fill="#95ee15"/>
<rect x="1014.1" y="726.0" width="172.4" height="46.6" rx="33.0" ry="23.3" fill="#aaf000"/>
<rect x="1016.1" y="731.5" width="168.4" height="38.0" rx="27.0" ry="19.0" fill="#bdef00"/>
<rect x="1018.1" y="739.5" width="164.4" height="26.0" rx="20.4" ry="13.0" fill="#d0ed00"/>
<rect x="1020.1" y="747.0" width="160.4" height="15.0" rx="13.1" ry="7.5" fill="#deec00"/>
<rect x="1022.1" y="754.0" width="156.4" height="5.0" rx="4.7" ry="2.5" fill="#e7eb00"/>
<rect x="740" y="770" width="720" height="161" fill="url(#dkD)"/><g fill="none" stroke-linecap="round"><path d="M1023.9 776 A25 25 0 0 1 1048 757.6 L1055 757.6" stroke="#f2e600" stroke-width="40" stroke-opacity="0.6" filter="url(#bl7)"/><path d="M1023.9 776 A25 25 0 0 1 1048 757.6 L1055 757.6" stroke="#ff9600" stroke-width="25" stroke-opacity="0.85" filter="url(#bl5)"/><path d="M1023.9 776 A25 25 0 0 1 1048 757.6 L1055 757.6" stroke="#fa0a00" stroke-width="14" filter="url(#bl3)"/><path d="M1023.9 776 A25 25 0 0 1 1048 757.6 L1055 757.6" stroke="#c80000" stroke-width="4.5" filter="url(#bl2)"/></g><g fill="none" stroke-linecap="round"><path d="M1176.6 776 A25 25 0 0 0 1152.5 757.6 L1145.5 757.6" stroke="#f2e600" stroke-width="40" stroke-opacity="0.6" filter="url(#bl7)"/><path d="M1176.6 776 A25 25 0 0 0 1152.5 757.6 L1145.5 757.6" stroke="#ff9600" stroke-width="25" stroke-opacity="0.85" filter="url(#bl5)"/><path d="M1176.6 776 A25 25 0 0 0 1152.5 757.6 L1145.5 757.6" stroke="#fa0a00" stroke-width="14" filter="url(#bl3)"/><path d="M1176.6 776 A25 25 0 0 0 1152.5 757.6 L1145.5 757.6" stroke="#c80000" stroke-width="4.5" filter="url(#bl2)"/></g>
</g>
<path d="M730 930.5 L1023 930.5 L1023 782.5 A25 25 0 0 1 1048 757.5 L1152.5 757.5 A25 25 0 0 1 1177.5 782.5 L1177.5 930.5 L1470 930.5 L1470 1020 L730 1020 Z" fill="#00007e" filter="url(#soft1)"/>
</g>
<g fill="none" stroke="#f00000" filter="url(#soft1)">
<line x1="39.0" y1="31.70" x2="39.0" y2="512.90" stroke-width="5.6"/>
<line x1="735.6" y1="31.70" x2="735.6" y2="512.90" stroke-width="4.8"/>
<line x1="36.20" y1="34.6" x2="738.00" y2="34.6" stroke-width="5.8"/>
<line x1="36.20" y1="511.0" x2="738.00" y2="511.0" stroke-width="3.8"/>
<line x1="752.3" y1="31.20" x2="752.3" y2="511.20" stroke-width="3.8"/>
<line x1="1446.3" y1="31.20" x2="1446.3" y2="511.20" stroke-width="2.4"/>
<line x1="750.40" y1="33.3" x2="1447.50" y2="33.3" stroke-width="4.2"/>
<line x1="750.40" y1="509.3" x2="1447.50" y2="509.3" stroke-width="3.8"/>
<line x1="38.7" y1="525.50" x2="38.7" y2="1004.80" stroke-width="4.4"/>
<line x1="736.0" y1="525.50" x2="736.0" y2="1004.80" stroke-width="4.2"/>
<line x1="36.50" y1="527.2" x2="738.10" y2="527.2" stroke-width="3.4"/>
<line x1="36.50" y1="1002.6" x2="738.10" y2="1002.6" stroke-width="4.4"/>
<line x1="752.3" y1="525.90" x2="752.3" y2="1002.80" stroke-width="3.8"/>
<line x1="1449.5" y1="525.90" x2="1449.5" y2="1002.80" stroke-width="3.8"/>
<line x1="750.40" y1="527.0" x2="1451.40" y2="527.0" stroke-width="2.2"/>
<line x1="750.40" y1="1000.6" x2="1451.40" y2="1000.6" stroke-width="4.4"/>
</g>
<g class="se" font-size="76" fill="#fff" fill-opacity="0.93" filter="url(#soft1)">
<text x="57.8" y="114.7" class="se">(a)</text>
<text x="771.2" y="114.7" class="se">(b)</text>
<text x="58" y="610.3" class="se">(c)</text>
<text x="770.8" y="609.2" class="se">(d)</text>
</g>
<g filter="url(#soft2)">
<line x1="277.5" y1="266.6" x2="499.5" y2="266.6" stroke="#0a0a00" stroke-width="4.6" stroke-dasharray="11.6 6.1"/>
<text x="503" y="283.6" class="se" font-size="56" fill="#101010">(AA’)</text>
</g>
<g filter="url(#soft2)">
<g stroke="#303030" stroke-width="3.1" fill="none">
<line x1="279.0" y1="1031.0" x2="279.0" y2="1896.8"/>
<line x1="263.5" y1="1895.3" x2="1340" y2="1895.3"/>
<line x1="263.5" y1="1738.1" x2="279.0" y2="1738.1"/>
<line x1="263.5" y1="1581.2" x2="279.0" y2="1581.2"/>
<line x1="263.5" y1="1424.2" x2="279.0" y2="1424.2"/>
<line x1="263.5" y1="1267.3" x2="279.0" y2="1267.3"/>
<line x1="263.5" y1="1110.4" x2="279.0" y2="1110.4"/>
<line x1="270.3" y1="1816.5" x2="279.0" y2="1816.5" stroke-width="2.8"/>
<line x1="270.3" y1="1659.6" x2="279.0" y2="1659.6" stroke-width="2.8"/>
<line x1="270.3" y1="1502.7" x2="279.0" y2="1502.7" stroke-width="2.8"/>
<line x1="270.3" y1="1345.8" x2="279.0" y2="1345.8" stroke-width="2.8"/>
<line x1="270.3" y1="1188.9" x2="279.0" y2="1188.9" stroke-width="2.8"/>
<line x1="270.3" y1="1031.9" x2="279.0" y2="1031.9" stroke-width="2.8"/>
<line x1="423.1" y1="1895.3" x2="423.1" y2="1911.1"/>
<line x1="616.0" y1="1895.3" x2="616.0" y2="1911.1"/>
<line x1="808.9" y1="1895.3" x2="808.9" y2="1911.1"/>
<line x1="1001.8" y1="1895.3" x2="1001.8" y2="1911.1"/>
<line x1="1194.7" y1="1895.3" x2="1194.7" y2="1911.1"/>
<line x1="326.6" y1="1895.3" x2="326.6" y2="1904.1" stroke-width="2.8"/>
<line x1="519.5" y1="1895.3" x2="519.5" y2="1904.1" stroke-width="2.8"/>
<line x1="712.4" y1="1895.3" x2="712.4" y2="1904.1" stroke-width="2.8"/>
<line x1="905.4" y1="1895.3" x2="905.4" y2="1904.1" stroke-width="2.8"/>
<line x1="1098.2" y1="1895.3" x2="1098.2" y2="1904.1" stroke-width="2.8"/>
<line x1="1291.2" y1="1895.3" x2="1291.2" y2="1904.1" stroke-width="2.8"/>
</g>
<g font-size="64" fill="#141414" stroke="#141414" stroke-width="0.5">
<text x="252.5" y="1913.4" text-anchor="end">0.0</text>
<text x="252.5" y="1756.5" text-anchor="end">0.2</text>
<text x="252.5" y="1599.6" text-anchor="end">0.4</text>
<text x="252.5" y="1442.6" text-anchor="end">0.6</text>
<text x="252.5" y="1285.7" text-anchor="end">0.8</text>
<text x="252.5" y="1128.8" text-anchor="end">1.0</text>
<text x="421.1" y="1971.2" text-anchor="middle">-0.4</text>
<text x="614.0" y="1971.2" text-anchor="middle">-0.2</text>
<text x="806.9" y="1971.2" text-anchor="middle">0.0</text>
<text x="999.8" y="1971.2" text-anchor="middle">0.2</text>
<text x="1192.7" y="1971.2" text-anchor="middle">0.4</text>
</g>
<g font-size="65" fill="#141414" stroke="#141414" stroke-width="0.5">
<text x="717.5" y="2045.6">y (<tspan class="se" font-size="60">μ</tspan>m)</text>
<g transform="translate(135.3 1669) rotate(-90)">
<text x="0.5" y="0" class="se" font-size="66">I</text>
<text x="35" y="0">(x10</text>
<text x="160.5" y="-35" letter-spacing="3.5">12</text>
<text x="257.5" y="0">W/m</text>
<text x="388.5" y="-35">2</text>
<text x="427" y="0">)</text>
</g>
</g>
<text x="324.8" y="1099.7" class="se" font-size="77" fill="#0c0c0c" filter="url(#soft2)">(e)</text>
<g fill="none" stroke-width="5.1" stroke-linejoin="round">
<g transform="translate(-1.0 1.2)">
<path d="M326.9 1567.0 L327.2 1566.4 L327.8 1565.1 L328.5 1563.6 L329.3 1561.9 L330.2 1560.1 L331.2 1558.1 L332.1 1556.2M336.9 1546.0 L337.3 1545.3 L338.5 1542.7 L339.7 1540.2 L340.9 1537.6 L342.1 1535.1M347.0 1525.0 L347.5 1524.1 L348.5 1521.9 L349.6 1519.7 L350.7 1517.5 L351.9 1515.2 L352.3 1514.2M357.4 1504.1 L357.8 1503.4 L358.9 1501.1 L360.1 1498.8 L361.3 1496.5 L362.4 1494.2 L362.8 1493.4M367.8 1483.3 L368.0 1483.0 L368.8 1481.2 L369.6 1479.6 L370.8 1477.1 L372.2 1474.2 L373.0 1472.4M377.3 1462.0 L377.5 1461.5 L378.4 1459.0 L379.1 1457.2 L379.8 1455.2 L380.6 1453.2 L381.4 1451.0 L381.5 1450.7M385.3 1440.1 L385.5 1439.4 L386.4 1436.9 L387.3 1434.4 L388.1 1431.9 L389.0 1429.5 L389.2 1428.8M392.9 1418.1 L393.0 1417.7 L393.8 1415.5 L394.6 1413.2 L395.4 1411.0 L396.1 1408.7 L396.8 1406.7M400.4 1396.0 L400.8 1394.9 L401.5 1392.5 L402.3 1390.2 L403.1 1387.8 L403.8 1385.5 L404.1 1384.6M407.5 1373.9 L407.9 1372.7 L408.6 1370.4 L409.3 1368.0 L410.1 1365.7 L410.8 1363.3 L411.1 1362.4M414.4 1351.6 L414.4 1351.5 L415.1 1349.2 L415.9 1346.8 L416.6 1344.5 L417.3 1342.2 L418.0 1340.1M421.5 1329.4 L421.9 1328.3 L422.6 1326.0 L423.4 1323.7 L424.2 1321.4 L425.0 1319.2 L425.3 1318.0M429.0 1307.3 L429.2 1306.6 L430.0 1304.3 L430.7 1302.0 L431.5 1299.6 L432.3 1297.3 L432.7 1295.9M436.1 1285.1 L436.3 1284.6 L437.0 1282.3 L437.7 1279.9 L438.5 1277.6 L439.2 1275.3 L439.7 1273.7M443.0 1262.9 L443.2 1262.3 L443.9 1260.0 L444.7 1257.6 L445.4 1255.3 L446.1 1253.0 L446.6 1251.4M450.0 1240.7 L450.1 1240.3 L450.8 1238.0 L451.6 1235.7 L452.3 1233.4 L453.0 1231.1 L453.6 1229.2M456.9 1218.4 L457.0 1218.3 L457.7 1215.9 L458.4 1213.5 L459.1 1211.2 L459.8 1208.9 L460.4 1206.9M463.6 1196.1 L463.6 1196.1 L464.3 1193.7 L465.0 1191.3 L465.7 1189.0 L466.4 1186.6 L467.0 1184.6M470.2 1173.7 L470.2 1173.6 L470.9 1171.2 L471.6 1168.8 L472.3 1166.5 L473.0 1164.1 L473.5 1162.2M476.5 1151.3 L476.8 1150.5 L477.5 1147.9 L478.1 1145.4 L478.8 1142.9 L479.5 1140.5 L479.7 1139.8M482.9 1128.9 L482.9 1128.8 L483.6 1126.7 L484.3 1124.6 L485.0 1122.6 L485.7 1120.8 L486.9 1117.9 L487.0 1117.6M492.1 1107.5 L492.3 1107.1 L493.5 1105.2 L494.7 1103.3 L495.9 1101.5 L497.0 1099.8 L498.1 1098.1 L498.6 1097.5M505.2 1088.3 L505.5 1087.9 L507.0 1086.2 L508.5 1084.7 L510.0 1083.3 L512.1 1081.4 L513.9 1080.1M524.4 1078.2 L525.1 1078.5 L527.4 1079.8 L529.5 1081.4 L531.5 1083.3 L533.0 1084.9 L533.6 1085.6M539.2 1095.4 L539.6 1096.5 L540.3 1098.2 L541.0 1100.1 L541.8 1102.1 L542.5 1104.2 L543.3 1106.4 L543.4 1106.7M547.0 1117.4 L547.4 1118.6 L548.1 1121.2 L548.9 1123.7 L549.6 1126.3 L550.3 1128.8 L550.3 1128.9M553.0 1139.9 L553.0 1139.9 L553.5 1142.2 L554.0 1144.5 L554.5 1146.8 L555.0 1149.2 L555.5 1151.5 L555.5 1151.6M557.7 1162.7 L557.9 1163.9 L558.4 1166.5 L558.8 1168.7 L559.3 1171.0 L559.7 1173.3 L559.9 1174.5M562.0 1185.6 L562.2 1186.6 L562.6 1189.1 L563.1 1191.6 L563.5 1194.0 L563.9 1196.5 L564.1 1197.4M565.9 1208.6 L566.0 1208.8 L566.3 1211.1 L566.7 1213.5 L567.0 1216.0 L567.4 1218.4 L567.6 1220.5M569.0 1231.7 L569.1 1232.8 L569.3 1235.2 L569.6 1237.5 L569.9 1239.9 L570.1 1242.2 L570.3 1243.6M571.8 1254.8 L571.9 1255.3 L572.3 1257.7 L572.7 1260.1 L573.1 1262.6 L573.5 1265.1 L573.8 1266.6M575.9 1277.7 L576.0 1278.8 L576.5 1281.2 L577.0 1283.6 L577.5 1286.0 L577.9 1288.4 L578.1 1289.5M580.3 1300.6 L580.4 1301.1 L580.9 1303.8 L581.4 1306.3 L581.9 1308.8 L582.4 1311.2 L582.6 1312.4M585.0 1323.4 L585.0 1323.7 L585.6 1326.0 L586.1 1328.3 L586.7 1330.7 L587.3 1333.0 L587.8 1335.1M590.7 1346.0 L591.0 1346.9 L591.6 1349.2 L592.3 1351.5 L593.0 1353.8 L593.8 1356.1 L594.2 1357.5M598.0 1368.1 L598.2 1368.7 L599.1 1371.0 L600.0 1373.3 L600.9 1375.6 L601.8 1377.9 L602.4 1379.3M607.1 1389.6 L607.4 1390.2 L608.5 1392.3 L609.6 1394.5 L610.8 1396.6 L612.0 1398.8 L612.8 1400.1M618.9 1409.7 L619.4 1410.4 L620.8 1412.4 L622.2 1414.4 L623.6 1416.4 L625.0 1418.3 L625.8 1419.5M632.6 1428.5 L633.0 1429.0 L634.5 1430.9 L636.1 1432.8 L637.6 1434.6 L639.1 1436.4 L640.3 1437.7M648.0 1446.0 L648.7 1446.8 L650.4 1448.5 L652.0 1450.3 L653.7 1452.0 L655.4 1453.7 L656.3 1454.6M664.8 1462.1 L665.5 1462.6 L667.5 1464.2 L669.4 1465.6 L671.2 1466.9 L673.1 1468.3 L674.5 1469.2M684.0 1475.2 L684.3 1475.4 L686.5 1476.6 L688.9 1477.9 L691.2 1479.1 L693.7 1480.4 L694.6 1480.8M704.9 1485.5 L705.4 1485.7 L707.6 1486.7 L709.9 1487.6 L712.2 1488.5 L714.5 1489.5 L716.0 1490.0M726.6 1493.9 L727.5 1494.2 L729.9 1495.0 L732.2 1495.8 L734.5 1496.5 L736.9 1497.2 L738.1 1497.6M749.0 1500.5 L750.0 1500.8 L752.4 1501.4 L754.8 1501.9 L757.2 1502.5 L759.6 1503.0 L760.7 1503.2M771.8 1505.2 L772.4 1505.3 L774.6 1505.7 L777.2 1506.1 L779.7 1506.4 L782.2 1506.7 L783.7 1506.9M794.9 1507.7 L795.3 1507.7 L797.7 1507.8 L800.0 1507.9 L802.4 1507.9 L804.7 1508.0 L806.9 1508.0M818.2 1507.9 L819.0 1507.9 L821.3 1507.8 L823.7 1507.7 L826.0 1507.6 L828.4 1507.5 L830.2 1507.3M841.4 1506.1 L841.8 1506.1 L844.4 1505.7 L846.6 1505.3 L848.9 1505.0 L851.2 1504.6 L853.3 1504.2M864.3 1501.9 L865.4 1501.6 L867.8 1501.1 L870.2 1500.5 L872.6 1499.9 L875.0 1499.2 L876.0 1499.0M886.8 1495.8 L887.9 1495.4 L890.3 1494.6 L892.6 1493.8 L895.0 1493.0 L897.4 1492.1 L898.2 1491.8M908.7 1487.8 L909.1 1487.6 L911.4 1486.7 L913.6 1485.7 L915.8 1484.8 L917.9 1483.8 L919.7 1483.0M929.9 1478.0 L930.1 1477.9 L932.5 1476.6 L934.7 1475.4 L936.8 1474.1 L938.9 1472.8 L940.2 1472.0M949.6 1465.6 L949.6 1465.6 L951.5 1464.2 L953.5 1462.6 L955.5 1461.0 L957.4 1459.4 L958.9 1458.1M967.0 1450.2 L967.8 1449.4 L969.5 1447.7 L971.2 1445.9 L972.8 1444.1 L974.4 1442.4 L975.2 1441.5M982.7 1433.0 L982.9 1432.8 L984.5 1430.9 L986.0 1429.0 L987.5 1427.1 L989.0 1425.1 L990.1 1423.6M996.8 1414.5 L996.8 1414.4 L998.2 1412.4 L999.6 1410.4 L1001.0 1408.3 L1002.4 1406.2 L1003.5 1404.5M1009.2 1394.8 L1009.4 1394.5 L1010.5 1392.3 L1011.6 1390.2 L1012.7 1388.0 L1013.8 1385.7 L1014.5 1384.0M1018.9 1373.6 L1019.0 1373.3 L1019.9 1371.0 L1020.8 1368.7 L1021.7 1366.4 L1022.5 1364.1 L1023.1 1362.4M1026.6 1351.6 L1026.7 1351.5 L1027.4 1349.2 L1028.0 1346.9 L1028.7 1344.6 L1029.3 1342.3 L1029.9 1340.1M1032.7 1329.1 L1032.9 1328.3 L1033.4 1326.0 L1034.0 1323.7 L1034.5 1321.5 L1035.0 1319.2 L1035.3 1317.4M1037.5 1306.4 L1037.6 1306.3 L1038.1 1303.8 L1038.6 1301.1 L1039.1 1298.4 L1039.5 1296.3 L1039.9 1294.6M1042.0 1283.5 L1042.2 1282.4 L1042.7 1280.0 L1043.2 1277.5 L1043.7 1275.0 L1044.1 1272.6 L1044.3 1271.7M1046.2 1260.6 L1046.3 1260.1 L1046.7 1257.7 L1047.1 1255.3 L1047.5 1252.9 L1047.8 1250.5 L1048.0 1248.7M1049.4 1237.5 L1049.5 1236.3 L1049.8 1234.0 L1050.1 1231.6 L1050.3 1229.2 L1050.6 1226.8 L1050.7 1225.6M1052.2 1214.4 L1052.3 1213.5 L1052.7 1211.1 L1053.0 1208.8 L1053.4 1206.4 L1053.8 1203.9 L1054.1 1202.5M1056.0 1191.4 L1056.2 1190.3 L1056.6 1187.8 L1057.1 1185.4 L1057.5 1182.9 L1057.9 1180.5 L1058.1 1179.6M1060.2 1168.5 L1060.4 1167.6 L1060.9 1165.2 L1061.3 1162.6 L1061.8 1160.1 L1062.3 1157.6 L1062.5 1156.7M1064.7 1145.6 L1065.0 1144.5 L1065.5 1142.2 L1066.0 1139.9 L1066.5 1137.7 L1067.0 1135.4 L1067.4 1133.9M1070.3 1123.0 L1070.5 1122.5 L1071.3 1119.9 L1072.0 1117.3 L1072.8 1114.8 L1073.6 1112.3 L1073.9 1111.5M1077.7 1100.9 L1078.0 1100.1 L1078.7 1098.2 L1079.4 1096.5 L1080.9 1093.1 L1082.2 1090.4 L1082.5 1089.9M1089.7 1081.3 L1090.5 1080.6 L1092.7 1079.1 L1095.0 1078.0 L1097.2 1077.4 L1099.4 1077.4 L1100.6 1077.7M1109.8 1084.0 L1110.5 1084.7 L1112.0 1086.2 L1113.5 1087.9 L1115.0 1089.7 L1116.5 1091.7 L1117.6 1093.2M1123.8 1102.6 L1124.3 1103.3 L1125.5 1105.2 L1126.7 1107.1 L1127.9 1109.2 L1129.1 1111.5 L1129.9 1112.9M1134.2 1123.4 L1134.3 1123.6 L1135.0 1125.6 L1135.7 1127.7 L1136.4 1129.9 L1137.1 1132.1 L1137.8 1134.4 L1137.9 1134.8M1140.9 1145.7 L1141.2 1146.7 L1141.9 1149.2 L1142.6 1151.7 L1143.3 1154.3 L1143.9 1156.8 L1144.1 1157.2M1147.2 1168.1 L1147.4 1168.8 L1148.1 1171.2 L1148.8 1173.6 L1149.5 1175.9 L1150.2 1178.3 L1150.5 1179.6M1153.7 1190.5 L1154.0 1191.3 L1154.7 1193.7 L1155.4 1196.1 L1156.1 1198.4 L1156.7 1200.8 L1157.1 1202.0M1160.4 1212.8 L1160.6 1213.5 L1161.3 1215.9 L1162.0 1218.3 L1162.7 1220.6 L1163.5 1223.0 L1163.9 1224.3M1167.2 1235.1 L1167.4 1235.7 L1168.2 1238.0 L1168.9 1240.3 L1169.6 1242.6 L1170.3 1244.9 L1170.8 1246.5M1174.2 1257.3 L1174.3 1257.6 L1175.1 1260.0 L1175.8 1262.3 L1176.5 1264.7 L1177.2 1267.0 L1177.8 1268.8M1181.1 1279.5 L1181.3 1279.9 L1182.0 1282.3 L1182.7 1284.6 L1183.4 1286.9 L1184.2 1289.3 L1184.7 1291.0M1188.2 1301.8 L1188.3 1302.0 L1189.0 1304.3 L1189.8 1306.6 L1190.6 1308.9 L1191.3 1311.2 L1192.0 1313.1M1195.6 1323.8 L1196.0 1324.9 L1196.8 1327.1 L1197.5 1329.4 L1198.3 1331.7 L1199.1 1334.1 L1199.4 1335.2M1202.9 1346.0 L1203.1 1346.8 L1203.9 1349.2 L1204.6 1351.5 L1205.3 1353.9 L1206.0 1356.2 L1206.4 1357.4M1209.7 1368.3 L1210.0 1369.2 L1210.7 1371.6 L1211.5 1373.9 L1212.2 1376.2 L1212.9 1378.5 L1213.3 1379.7M1216.8 1390.5 L1217.1 1391.4 L1217.9 1393.7 L1218.6 1396.0 L1219.4 1398.3 L1220.2 1400.7 L1220.6 1401.8M1224.2 1412.5 L1224.4 1413.2 L1225.2 1415.5 L1226.0 1417.7 L1226.7 1420.0 L1227.5 1422.2 L1228.1 1423.9M1231.8 1434.6 L1232.2 1435.7 L1233.0 1438.1 L1233.9 1440.6 L1234.8 1443.0 L1235.6 1445.4 L1235.8 1445.9M1239.6 1456.5 L1239.9 1457.2 L1240.6 1459.0 L1241.5 1461.5 L1242.5 1464.0 L1243.2 1466.1 L1243.9 1467.7M1248.6 1478.0 L1249.0 1478.8 L1249.8 1480.4 L1250.6 1482.1 L1251.5 1483.9 L1252.4 1485.8 L1253.4 1487.8 L1253.9 1488.8M1259.0 1498.9 L1259.5 1499.9 L1260.7 1502.2 L1261.8 1504.6 L1263.0 1507.0 L1264.2 1509.3 L1264.3 1509.6M1269.4 1519.7 L1269.9 1520.8 L1271.0 1523.0 L1272.1 1525.3 L1273.2 1527.6 L1274.4 1530.0 L1274.6 1530.5M1279.5 1540.7 L1279.9 1541.4 L1281.1 1544.0 L1282.3 1546.5 L1283.5 1549.0 L1284.7 1551.4 L1284.7 1551.5M1289.6 1561.7 L1289.7 1561.9 L1290.5 1563.6 L1291.2 1565.1 L1291.8 1566.4 L1292.1 1567.0" stroke="#ff0aa0" stroke-width="4.9"/>
<path d="M326.9 1709.6 L327.4 1709.2 L328.5 1708.1 L330.0 1706.9 L331.6 1705.5 L333.3 1703.9 L335.2 1702.2 L337.3 1700.5 L339.3 1698.6 L341.5 1696.7 L343.6 1694.8 L345.7 1693.0 L347.7 1691.1 L349.6 1689.3 L351.4 1687.6 L353.1 1686.0 L354.9 1684.2 L355.2 1683.8M368.9 1667.9 L369.2 1667.5 L370.7 1665.6 L372.2 1663.7 L373.2 1662.4M384.4 1647.3 L384.6 1647.1 L386.1 1645.0 L387.5 1643.1 L389.0 1641.1 L390.5 1639.0 L392.1 1637.0 L393.6 1634.9 L395.2 1632.8 L396.7 1630.7 L398.2 1628.6 L399.7 1626.6 L401.1 1624.5 L402.4 1622.6 L403.6 1620.7 L404.7 1618.9M413.5 1602.3 L413.9 1601.6 L414.9 1599.4 L416.0 1597.2 L416.5 1596.0M423.5 1580.8 L423.8 1580.3 L424.9 1578.3 L426.0 1576.3 L427.3 1574.1 L428.6 1571.9 L429.9 1569.7 L431.3 1567.5 L432.6 1565.2 L434.0 1563.0 L435.2 1560.8 L436.5 1558.7 L437.6 1556.7 L438.6 1554.8 L439.4 1553.2M445.8 1537.8 L446.2 1537.0 L447.2 1534.9 L448.2 1532.8 L448.9 1531.5M456.9 1516.9 L456.9 1516.9 L458.0 1514.7 L459.1 1512.6 L460.2 1510.4 L461.4 1508.2 L462.6 1505.9 L463.7 1503.6 L464.9 1501.3 L466.0 1499.0 L467.1 1496.8 L468.1 1494.6 L469.1 1492.5 L470.1 1490.3 L470.9 1488.5M476.9 1473.0 L477.2 1472.4 L478.2 1470.3 L479.2 1468.2 L480.0 1466.7M488.9 1451.1 L489.1 1450.9 L490.4 1448.8 L491.7 1446.8 L493.1 1444.7 L494.4 1442.5 L495.9 1440.3 L497.3 1438.1 L498.8 1435.9 L500.3 1433.8 L501.9 1431.8 L503.4 1429.8 L505.0 1428.0 L506.5 1426.4 L508.3 1424.6 L509.0 1424.1M524.4 1415.1 L524.8 1415.0 L526.9 1414.8 L529.1 1415.0 L531.3 1415.6M543.5 1425.5 L543.6 1425.6 L544.8 1427.2 L546.1 1429.1 L547.3 1431.1 L548.6 1433.3 L549.9 1435.6 L551.1 1438.0 L552.3 1440.4 L553.5 1442.9 L554.6 1445.3 L555.7 1447.6 L556.7 1449.8 L557.6 1451.9 L557.9 1452.6M562.8 1467.7 L563.0 1468.4 L563.5 1470.8 L564.1 1473.2 L564.3 1474.6M567.1 1490.1 L567.1 1490.3 L567.6 1492.9 L568.0 1495.4 L568.4 1497.7 L568.7 1500.2 L569.1 1502.7 L569.4 1505.3 L569.8 1507.8 L570.1 1510.4 L570.5 1512.9 L571.0 1515.3 L571.4 1517.6 L571.9 1519.8 L571.9 1519.9M577.0 1534.8 L577.1 1535.1 L578.1 1537.4 L579.0 1539.7 L579.7 1541.2M587.0 1557.1 L587.3 1557.6 L588.5 1559.7 L589.7 1561.7 L590.9 1563.7 L592.2 1565.8 L593.6 1567.9 L595.0 1570.1 L596.4 1572.2 L597.8 1574.3 L599.3 1576.4 L600.7 1578.4 L602.1 1580.3 L603.5 1582.1 L605.0 1584.0 L605.4 1584.5M617.7 1596.9 L617.8 1596.9 L619.5 1598.4 L621.2 1600.1 L622.9 1601.6M635.4 1612.0 L636.5 1612.7 L638.4 1613.8 L640.5 1615.0 L642.7 1616.1 L645.0 1617.3 L647.4 1618.4 L649.9 1619.5 L652.3 1620.7 L654.7 1621.7 L657.1 1622.8 L659.3 1623.8 L661.5 1624.7 L663.2 1625.5M678.2 1631.8 L678.6 1632.0 L680.9 1632.8 L683.3 1633.6 L684.8 1634.1M699.2 1638.4 L699.6 1638.6 L701.8 1639.2 L703.7 1639.7 L705.6 1640.2 L707.9 1640.8 L710.9 1641.5 L713.6 1642.1 L715.5 1642.6 L717.5 1643.1 L719.7 1643.6 L722.0 1644.2 L724.4 1644.8 L726.9 1645.4 L727.4 1645.6M742.1 1648.6 L742.5 1648.7 L745.0 1649.1 L747.3 1649.4 L749.0 1649.6M763.7 1650.7 L764.4 1650.7 L766.9 1650.8 L769.3 1650.9 L771.8 1651.0 L774.2 1651.1 L776.5 1651.2 L778.9 1651.2 L781.3 1651.4 L784.1 1651.5 L787.0 1651.6 L789.8 1651.6 L792.3 1651.7M807.0 1652.0 L807.8 1652.0 L809.6 1652.1 L811.0 1652.1" stroke="#ff0a0a"/>
<path d="M326.9 1709.6 L327.4 1709.2 L328.5 1708.1 L330.0 1706.9 L331.6 1705.5 L333.3 1703.9 L335.2 1702.2 L337.3 1700.5 L339.3 1698.6 L341.5 1696.7 L343.6 1694.8 L345.7 1693.0 L347.7 1691.1 L349.6 1689.3 L351.4 1687.6 L353.1 1686.0 L354.9 1684.2 L355.2 1683.8M368.9 1667.9 L369.2 1667.5 L370.7 1665.6 L372.2 1663.7 L373.2 1662.4M384.4 1647.3 L384.6 1647.1 L386.1 1645.0 L387.5 1643.1 L389.0 1641.1 L390.5 1639.0 L392.1 1637.0 L393.6 1634.9 L395.2 1632.8 L396.7 1630.7 L398.2 1628.6 L399.7 1626.6 L401.1 1624.5 L402.4 1622.6 L403.6 1620.7 L404.7 1618.9M413.5 1602.3 L413.9 1601.6 L414.9 1599.4 L416.0 1597.2 L416.5 1596.0M423.5 1580.8 L423.8 1580.3 L424.9 1578.3 L426.0 1576.3 L427.3 1574.1 L428.6 1571.9 L429.9 1569.7 L431.3 1567.5 L432.6 1565.2 L434.0 1563.0 L435.2 1560.8 L436.5 1558.7 L437.6 1556.7 L438.6 1554.8 L439.4 1553.2M445.8 1537.8 L446.2 1537.0 L447.2 1534.9 L448.2 1532.8 L448.9 1531.5M456.9 1516.9 L456.9 1516.9 L458.0 1514.7 L459.1 1512.6 L460.2 1510.4 L461.4 1508.2 L462.6 1505.9 L463.7 1503.6 L464.9 1501.3 L466.0 1499.0 L467.1 1496.8 L468.1 1494.6 L469.1 1492.5 L470.1 1490.3 L470.9 1488.5M476.9 1473.0 L477.2 1472.4 L478.2 1470.3 L479.2 1468.2 L480.0 1466.7M488.9 1451.1 L489.1 1450.9 L490.4 1448.8 L491.7 1446.8 L493.1 1444.7 L494.4 1442.5 L495.9 1440.3 L497.3 1438.1 L498.8 1435.9 L500.3 1433.8 L501.9 1431.8 L503.4 1429.8 L505.0 1428.0 L506.5 1426.4 L508.3 1424.6 L509.0 1424.1M524.4 1415.1 L524.8 1415.0 L526.9 1414.8 L529.1 1415.0 L531.3 1415.6M543.5 1425.5 L543.6 1425.6 L544.8 1427.2 L546.1 1429.1 L547.3 1431.1 L548.6 1433.3 L549.9 1435.6 L551.1 1438.0 L552.3 1440.4 L553.5 1442.9 L554.6 1445.3 L555.7 1447.6 L556.7 1449.8 L557.6 1451.9 L557.9 1452.6M562.8 1467.7 L563.0 1468.4 L563.5 1470.8 L564.1 1473.2 L564.3 1474.6M567.1 1490.1 L567.1 1490.3 L567.6 1492.9 L568.0 1495.4 L568.4 1497.7 L568.7 1500.2 L569.1 1502.7 L569.4 1505.3 L569.8 1507.8 L570.1 1510.4 L570.5 1512.9 L571.0 1515.3 L571.4 1517.6 L571.9 1519.8 L571.9 1519.9M577.0 1534.8 L577.1 1535.1 L578.1 1537.4 L579.0 1539.7 L579.7 1541.2M587.0 1557.1 L587.3 1557.6 L588.5 1559.7 L589.7 1561.7 L590.9 1563.7 L592.2 1565.8 L593.6 1567.9 L595.0 1570.1 L596.4 1572.2 L597.8 1574.3 L599.3 1576.4 L600.7 1578.4 L602.1 1580.3 L603.5 1582.1 L605.0 1584.0 L605.4 1584.5M617.7 1596.9 L617.8 1596.9 L619.5 1598.4 L621.2 1600.1 L622.9 1601.6M635.4 1612.0 L636.5 1612.7 L638.4 1613.8 L640.5 1615.0 L642.7 1616.1 L645.0 1617.3 L647.4 1618.4 L649.9 1619.5 L652.3 1620.7 L654.7 1621.7 L657.1 1622.8 L659.3 1623.8 L661.5 1624.7 L663.2 1625.5M678.2 1631.8 L678.6 1632.0 L680.9 1632.8 L683.3 1633.6 L684.8 1634.1M699.2 1638.4 L699.6 1638.6 L701.8 1639.2 L703.7 1639.7 L705.6 1640.2 L707.9 1640.8 L710.9 1641.5 L713.6 1642.1 L715.5 1642.6 L717.5 1643.1 L719.7 1643.6 L722.0 1644.2 L724.4 1644.8 L726.9 1645.4 L727.4 1645.6M742.1 1648.6 L742.5 1648.7 L745.0 1649.1 L747.3 1649.4 L749.0 1649.6M763.7 1650.7 L764.4 1650.7 L766.9 1650.8 L769.3 1650.9 L771.8 1651.0 L774.2 1651.1 L776.5 1651.2 L778.9 1651.2 L781.3 1651.4 L784.1 1651.5 L787.0 1651.6 L789.8 1651.6 L792.3 1651.7M807.0 1652.0 L807.8 1652.0 L809.6 1652.1 L811.0 1652.1" stroke="#ff0a0a" transform="translate(1622 0) scale(-1 1)"/>
<path d="M326.9 1749.9 L327.5 1749.6 L328.8 1748.8 L330.4 1747.8 L332.2 1746.8 L334.2 1745.6 L336.4 1744.3 L338.7 1742.9 L341.1 1741.4 L343.6 1739.8 L346.0 1738.2 L348.5 1736.5 L350.2 1735.3 L351.0 1734.7M379.4 1712.5 L380.1 1711.9 L382.0 1710.1 L383.8 1708.4 L385.6 1706.7 L387.4 1705.0 L389.1 1703.3 L390.8 1701.6 L392.4 1699.9 L394.1 1698.1 L395.8 1696.4 L397.5 1694.5 L399.2 1692.6 L400.9 1690.7 L401.5 1690.0M424.4 1661.5 L424.6 1661.3 L426.1 1659.2 L427.6 1657.2 L429.0 1655.2 L430.4 1653.2 L431.7 1651.3 L433.0 1649.3 L434.2 1647.4 L435.5 1645.4 L436.7 1643.4 L438.0 1641.4 L439.3 1639.3 L440.5 1637.3M456.8 1608.7 L457.3 1607.8 L458.5 1605.6 L459.7 1603.4 L460.8 1601.4 L461.9 1599.3 L463.0 1597.3 L464.1 1595.2 L465.2 1593.2 L466.4 1591.1 L467.6 1589.0 L468.9 1586.8 L470.2 1584.7 L470.7 1584.0M489.2 1557.5 L489.8 1556.7 L491.2 1554.5 L492.5 1552.3 L493.9 1550.1 L495.2 1547.8 L496.5 1545.7 L497.8 1543.5 L499.1 1541.4 L500.3 1539.4 L501.6 1537.5 L502.8 1535.7 L504.0 1534.0 L505.1 1532.6M533.9 1518.3 L534.5 1518.6 L536.6 1519.9 L538.9 1521.6 L540.8 1523.2 L542.5 1524.6 L544.1 1526.1 L545.8 1527.8 L547.5 1529.7 L549.2 1531.9 L550.9 1534.5 L552.2 1536.8 L552.3 1536.9M563.5 1563.3 L563.8 1564.2 L564.6 1566.8 L565.2 1569.3 L565.7 1571.7 L566.2 1574.0 L566.6 1576.4 L567.0 1578.7 L567.4 1581.1 L567.9 1583.5 L568.5 1585.9 L569.1 1588.1M579.7 1614.9 L579.9 1615.3 L581.1 1617.5 L582.4 1619.5 L583.6 1621.5 L584.9 1623.5 L586.3 1625.4 L587.7 1627.3 L589.2 1629.2 L590.8 1631.1 L592.4 1633.0 L594.2 1634.9 L596.1 1636.9 L596.1 1636.9M623.0 1659.8 L623.0 1659.8 L625.3 1661.4 L627.6 1662.7 L629.7 1663.9 L631.7 1665.0 L633.7 1665.9 L635.8 1666.8 L637.8 1667.7 L639.9 1668.5 L642.2 1669.5 L644.5 1670.5 L645.3 1670.9M671.9 1681.4 L672.8 1681.7 L675.2 1682.5 L677.5 1683.2 L679.7 1683.8 L681.9 1684.4 L684.2 1685.0 L686.5 1685.5 L688.9 1686.1 L691.5 1686.6 L694.2 1687.2 L696.2 1687.6M721.6 1692.5 L721.7 1692.5 L724.4 1692.9 L727.1 1693.2 L730.0 1693.6 L732.5 1693.9 L734.6 1694.2 L736.9 1694.4 L739.2 1694.6 L741.6 1694.9 L744.1 1695.1 L746.4 1695.3M772.7 1697.4 L772.7 1697.4 L775.1 1697.5 L777.4 1697.7 L779.6 1697.8 L781.6 1698.0 L783.6 1698.1 L785.4 1698.2 L789.0 1698.4 L792.1 1698.5 L794.8 1698.6 L797.2 1698.7 L798.6 1698.7M826.8 1698.5 L826.9 1698.5 L830.0 1698.4 L833.6 1698.2 L835.4 1698.1 L837.4 1698.0 L839.4 1697.8 L841.6 1697.7 L843.9 1697.5 L846.3 1697.4 L848.8 1697.2 L851.3 1697.0 L851.4 1697.0M878.3 1694.8 L878.6 1694.7 L881.0 1694.5 L883.3 1694.3 L885.4 1694.0 L887.5 1693.8 L890.4 1693.4 L893.3 1693.1 L896.0 1692.7 L898.6 1692.3 L901.2 1691.8 L902.7 1691.6M929.3 1686.2 L930.1 1686.1 L932.5 1685.5 L934.8 1685.0 L937.1 1684.4 L939.3 1683.8 L941.5 1683.2 L943.8 1682.5 L946.2 1681.7 L948.6 1680.9 L950.8 1680.2 L953.0 1679.3 L955.3 1678.5 L957.7 1677.6 L960.0 1676.7 L962.3 1675.7 L964.7 1674.7 L966.9 1673.8 L969.2 1672.8 L971.4 1671.9 L971.6 1671.8M999.4 1657.3 L999.5 1657.3 L1001.4 1655.8 L1003.3 1654.3 L1005.3 1652.8 L1007.3 1651.1 L1009.3 1649.5 L1011.3 1647.8 L1013.2 1646.0 L1015.2 1644.3 L1017.0 1642.6 L1018.8 1640.9 L1020.5 1639.3 L1021.4 1638.4M1039.1 1615.3 L1039.1 1615.3 L1040.2 1613.2 L1041.3 1611.1 L1042.3 1608.9 L1043.3 1606.6 L1044.2 1604.3 L1045.1 1602.0 L1046.0 1599.7 L1046.8 1597.4 L1047.6 1595.1 L1048.4 1592.8 L1049.1 1590.6 L1049.2 1590.3M1056.6 1560.1 L1056.8 1559.7 L1057.6 1557.4 L1058.6 1554.9 L1059.6 1552.5 L1060.6 1550.0 L1061.6 1547.5 L1062.7 1545.2 L1063.8 1542.9 L1064.8 1540.7 L1065.8 1538.6 L1066.8 1536.8 L1067.5 1535.6M1092.0 1516.8 L1092.4 1516.8 L1094.8 1517.3 L1097.2 1518.3 L1099.7 1519.6 L1101.8 1521.1 L1103.5 1522.3 L1105.2 1523.6 L1106.9 1525.1 L1108.7 1526.8 L1110.6 1528.7 L1112.5 1530.8 L1113.9 1532.6M1133.3 1562.8 L1134.0 1563.7 L1135.4 1565.7 L1136.9 1567.8 L1138.3 1569.8 L1139.8 1571.8 L1141.3 1573.9 L1142.7 1575.9 L1144.1 1577.9 L1145.5 1579.9 L1146.9 1581.8 L1148.2 1583.8 L1148.9 1584.9M1165.4 1614.6 L1165.7 1615.0 L1166.9 1617.1 L1168.1 1619.3 L1169.3 1621.4 L1170.5 1623.6 L1171.7 1625.7 L1172.9 1627.9 L1174.1 1630.0 L1175.4 1632.1 L1176.6 1634.2 L1177.8 1636.2 L1179.0 1638.2 L1179.0 1638.2M1197.6 1665.5 L1197.9 1666.0 L1199.4 1667.9 L1200.8 1669.8 L1202.3 1671.7 L1203.9 1673.7 L1205.4 1675.6 L1207.0 1677.6 L1208.6 1679.6 L1210.2 1681.5 L1211.8 1683.4 L1213.4 1685.3 L1215.0 1687.2 L1216.1 1688.4M1244.1 1716.3 L1244.4 1716.6 L1246.3 1718.2 L1248.3 1719.7 L1250.2 1721.3 L1252.2 1722.9 L1254.3 1724.5 L1256.3 1726.0 L1258.3 1727.6 L1260.3 1729.1 L1262.3 1730.5 L1264.2 1732.0 L1266.1 1733.3 L1266.9 1733.9" stroke="#0a0aff"/>
<path d="M326.9 1782.2 C331.4 1780.6 343.9 1776.8 353.8 1772.8 C363.7 1768.8 375.8 1763.6 386.1 1758.0 C396.4 1752.4 406.7 1746.4 415.7 1739.2 C424.7 1732.0 432.4 1723.4 440.0 1714.9 C447.6 1706.4 454.3 1697.4 461.5 1688.0 C468.7 1678.6 476.3 1666.9 483.0 1658.4 C489.7 1649.9 496.5 1642.3 501.9 1636.9 C507.3 1631.5 510.1 1628.7 515.3 1626.1 C520.4 1623.5 527.4 1621.1 532.8 1621.3 C538.2 1621.5 543.1 1624.0 547.6 1627.5 C552.1 1631.0 556.4 1636.7 559.8 1642.3 C563.2 1647.9 565.3 1654.8 567.8 1661.1 C570.3 1667.4 571.2 1674.1 574.6 1679.9 C578.0 1685.7 582.2 1690.7 588.0 1696.1 C593.8 1701.5 601.5 1707.5 609.6 1712.2 C617.7 1716.9 627.5 1721.0 636.5 1724.4 C645.5 1727.8 653.1 1730.3 663.4 1732.4 C673.7 1734.5 682.1 1735.5 698.4 1737.2 C714.7 1738.9 742.6 1741.8 761.1 1742.8 C779.6 1743.8 793.4 1743.4 809.5 1743.4 C825.6 1743.4 839.4 1743.8 857.9 1742.8 C876.4 1741.8 904.3 1738.9 920.6 1737.2 C936.9 1735.5 945.3 1734.5 955.6 1732.4 C965.9 1730.3 973.5 1727.8 982.5 1724.4 C991.5 1721.0 1001.3 1716.9 1009.4 1712.2 C1017.5 1707.5 1025.2 1701.5 1031.0 1696.1 C1036.8 1690.7 1041.0 1685.7 1044.4 1679.9 C1047.8 1674.1 1048.7 1667.4 1051.2 1661.1 C1053.7 1654.8 1055.8 1647.9 1059.2 1642.3 C1062.6 1636.7 1066.9 1631.0 1071.4 1627.5 C1075.9 1624.0 1080.8 1621.5 1086.2 1621.3 C1091.6 1621.1 1098.6 1623.5 1103.7 1626.1 C1108.8 1628.7 1111.7 1631.5 1117.1 1636.9 C1122.5 1642.3 1129.3 1649.9 1136.0 1658.4 C1142.7 1666.9 1150.3 1678.6 1157.5 1688.0 C1164.7 1697.4 1171.4 1706.4 1179.0 1714.9 C1186.6 1723.4 1194.3 1732.0 1203.3 1739.2 C1212.3 1746.4 1222.6 1752.4 1232.9 1758.0 C1243.2 1763.6 1255.3 1768.8 1265.2 1772.8 C1275.1 1776.8 1287.6 1780.6 1292.1 1782.2" stroke="#080808" stroke-width="5.4" stroke-linecap="round"/>
</g>
<line x1="655" y1="1054.5" x2="772" y2="1054.5" stroke="#080808" stroke-width="6.6"/>
<line x1="655" y1="1127" x2="772" y2="1127" stroke="#0a0aff" stroke-width="6.2" stroke-dasharray="26.5 24.8"/>
<line x1="655" y1="1198.5" x2="772" y2="1198.5" stroke="#ff0a0a" stroke-width="6.2" stroke-dasharray="30 14.5 7 13.5"/>
<line x1="655" y1="1272.5" x2="762" y2="1272.5" stroke="#ff0aa0" stroke-width="6.2" stroke-dasharray="13.2 10.4"/>
</g>
<g font-size="51" fill="#141414" stroke="#141414" stroke-width="0.3">
<text transform="translate(780.5 1071) scale(1.42 1)" class="se" font-weight="bold" font-size="43" stroke="none">α</text>
<text x="823" y="1071">=<tspan dx="15.5">35.26</tspan><tspan dy="-27.5" dx="1.5" font-size="27">o</tspan></text>
<text transform="translate(780.5 1144.4) scale(1.42 1)" class="se" font-weight="bold" font-size="43" stroke="none">α</text>
<text x="823" y="1144.4">=<tspan dx="15.5">45</tspan><tspan dy="-27.5" dx="1.5" font-size="27">o</tspan></text>
<text transform="translate(780.5 1216.7) scale(1.42 1)" class="se" font-weight="bold" font-size="43" stroke="none">α</text>
<text x="823" y="1216.7">=<tspan dx="15.5">54.7</tspan><tspan dy="-27.5" dx="1.5" font-size="27">o</tspan></text>
<text transform="translate(780.5 1289.3) scale(1.42 1)" class="se" font-weight="bold" font-size="43" stroke="none">α</text>
<text x="823" y="1289.3">=<tspan dx="15.5">90</tspan><tspan dy="-27.5" dx="1.5" font-size="27">o</tspan></text>
</g>
</g>
</svg></body></html>
